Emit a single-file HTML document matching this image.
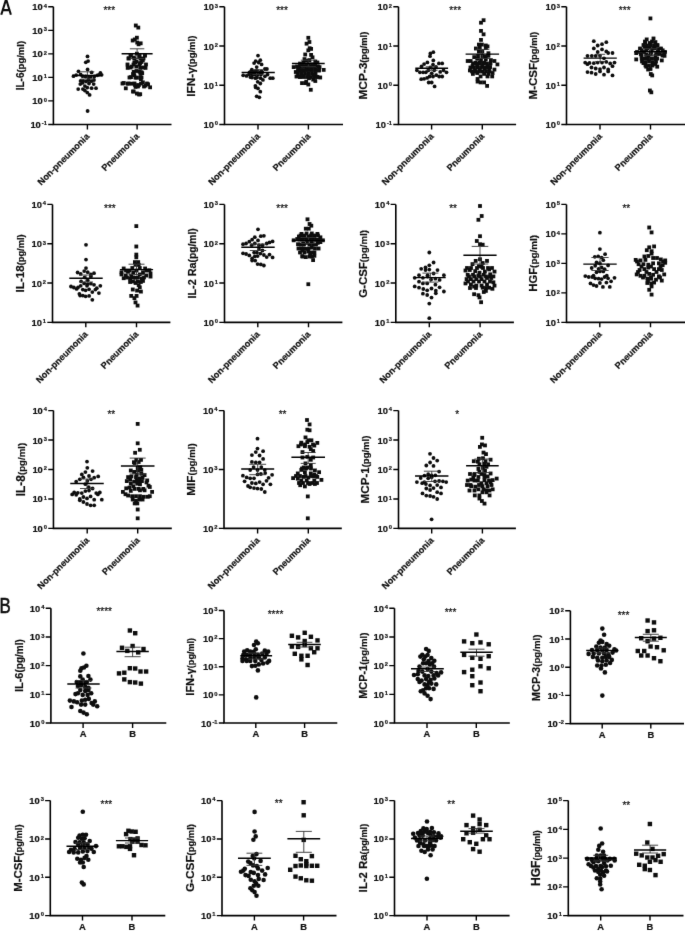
<!DOCTYPE html>
<html><head><meta charset="utf-8"><style>
html,body{margin:0;padding:0;background:#fff;}
svg{display:block;filter:grayscale(1);}
text{font-family:"Liberation Sans", sans-serif;fill:#111;stroke:#111;stroke-width:0.2px;}
</style></head><body>
<svg width="685" height="931" viewBox="0 0 685 931">
<defs><filter id="bl" x="0" y="0" width="685" height="931" filterUnits="userSpaceOnUse"><feConvolveMatrix order="3" kernelMatrix="0.00524 0.06192 0.00524 0.06192 0.73137 0.06192 0.00524 0.06192 0.00524" divisor="1" edgeMode="duplicate"/></filter></defs>
<rect width="685" height="931" fill="#fff"/>
<g filter="url(#bl)">
<path d="M1.3 14.7L6.1 -0.9L10.9 14.7M3.1 10.1H9.2" fill="none" stroke="#111" stroke-width="2.1"/>
<text transform="translate(-0.6 612.6) scale(0.78 1)" font-size="21.6" style="stroke-width:0.6px">B</text>
<path d="M53.4 6.8V124.45H171.5" fill="none" stroke="#000" stroke-width="1.6"/>
<path d="M48.2 6.8H53.4M48.2 30.33H53.4M48.2 53.86H53.4M48.2 77.39H53.4M48.2 100.92H53.4M48.2 124.45H53.4M87.4 124.45v5M137.1 124.45v5" fill="none" stroke="#000" stroke-width="1.4"/>
<text x="47" y="10.3" text-anchor="end" font-size="9.4" font-weight="bold">10<tspan font-size="5.8" dx="1.0" dy="-2.7">4</tspan></text>
<text x="47" y="33.83" text-anchor="end" font-size="9.4" font-weight="bold">10<tspan font-size="5.8" dx="1.0" dy="-2.7">3</tspan></text>
<text x="47" y="57.36" text-anchor="end" font-size="9.4" font-weight="bold">10<tspan font-size="5.8" dx="1.0" dy="-2.7">2</tspan></text>
<text x="47" y="80.89" text-anchor="end" font-size="9.4" font-weight="bold">10<tspan font-size="5.8" dx="1.0" dy="-2.7">1</tspan></text>
<text x="47" y="104.42" text-anchor="end" font-size="9.4" font-weight="bold">10<tspan font-size="5.8" dx="1.0" dy="-2.7">0</tspan></text>
<text x="47" y="127.95" text-anchor="end" font-size="9.4" font-weight="bold">10<tspan font-size="5.8" dx="1.0" dy="-2.7">-1</tspan></text>
<text id="lab_a1" transform="translate(23.8 65.62) rotate(-90)" text-anchor="middle" font-weight="bold" font-size="10.0">IL-6<tspan id="lp_a1" font-size="9.5">(pg/ml)</tspan></text>
<text x="109.3" y="13.65" text-anchor="middle" font-size="10" fill="#333">***</text>
<text transform="translate(90 137.05) rotate(-45)" text-anchor="end" font-size="9.05" font-weight="bold">Non-pneumonia</text>
<text transform="translate(139.7 137.05) rotate(-45)" text-anchor="end" font-size="9.05" font-weight="bold">Pneumonia</text>
<g fill="#111"><circle cx="87.5" cy="56.4" r="1.9"/><circle cx="88.1" cy="61.1" r="1.9"/><circle cx="85.8" cy="62.3" r="1.9"/><circle cx="87.6" cy="69.5" r="1.9"/><circle cx="78.5" cy="71.3" r="1.9"/><circle cx="91.6" cy="72.4" r="1.9"/><circle cx="100.4" cy="73" r="1.9"/><circle cx="101.6" cy="74.8" r="1.9"/><circle cx="73.5" cy="76.2" r="1.9"/><circle cx="76.2" cy="75.1" r="1.9"/><circle cx="80.6" cy="74.5" r="1.9"/><circle cx="82.6" cy="76.2" r="1.9"/><circle cx="85.5" cy="76.5" r="1.9"/><circle cx="88.4" cy="77.1" r="1.9"/><circle cx="90.8" cy="76.8" r="1.9"/><circle cx="94.3" cy="76.5" r="1.9"/><circle cx="97.2" cy="75.3" r="1.9"/><circle cx="98.9" cy="74.8" r="1.9"/><circle cx="80.6" cy="80.9" r="1.9"/><circle cx="83.2" cy="80.9" r="1.9"/><circle cx="86.1" cy="81.5" r="1.9"/><circle cx="88.4" cy="80" r="1.9"/><circle cx="91.4" cy="81.2" r="1.9"/><circle cx="94" cy="80" r="1.9"/><circle cx="80.3" cy="84.1" r="1.9"/><circle cx="82.6" cy="82.9" r="1.9"/><circle cx="89" cy="83.5" r="1.9"/><circle cx="93.7" cy="84.1" r="1.9"/><circle cx="84.9" cy="86.1" r="1.9"/><circle cx="87.3" cy="87.6" r="1.9"/><circle cx="78.2" cy="89.1" r="1.9"/><circle cx="82.9" cy="89.1" r="1.9"/><circle cx="91.6" cy="88.2" r="1.9"/><circle cx="96" cy="88.2" r="1.9"/><circle cx="84.9" cy="90.5" r="1.9"/><circle cx="87.3" cy="92.6" r="1.9"/><circle cx="89.6" cy="94.9" r="1.9"/><circle cx="87.6" cy="111" r="1.9"/><rect x="133.9" y="23.6" width="3.8" height="3.8"/><rect x="136.4" y="25.7" width="3.8" height="3.8"/><rect x="135" y="35.8" width="3.8" height="3.8"/><rect x="130.8" y="38.6" width="3.8" height="3.8"/><rect x="132.9" y="37.5" width="3.8" height="3.8"/><rect x="135.3" y="40.7" width="3.8" height="3.8"/><rect x="138.8" y="41.4" width="3.8" height="3.8"/><rect x="136.7" y="42.4" width="3.8" height="3.8"/><rect x="135" y="51.8" width="3.8" height="3.8"/><rect x="129" y="53.6" width="3.8" height="3.8"/><rect x="143" y="53.6" width="3.8" height="3.8"/><rect x="126.9" y="56.4" width="3.8" height="3.8"/><rect x="131.8" y="55.7" width="3.8" height="3.8"/><rect x="137.4" y="55" width="3.8" height="3.8"/><rect x="140.9" y="58.5" width="3.8" height="3.8"/><rect x="133.2" y="60.6" width="3.8" height="3.8"/><rect x="138.1" y="61.2" width="3.8" height="3.8"/><rect x="132.4" y="60.7" width="3.8" height="3.8"/><rect x="139.6" y="60.1" width="3.8" height="3.8"/><rect x="125.8" y="66" width="3.8" height="3.8"/><rect x="129.8" y="64.7" width="3.8" height="3.8"/><rect x="134.4" y="64.7" width="3.8" height="3.8"/><rect x="138.3" y="66" width="3.8" height="3.8"/><rect x="143.6" y="66" width="3.8" height="3.8"/><rect x="131.8" y="69.9" width="3.8" height="3.8"/><rect x="137.7" y="69.9" width="3.8" height="3.8"/><rect x="140.3" y="71.2" width="3.8" height="3.8"/><rect x="139.5" y="70.3" width="3.8" height="3.8"/><rect x="132.4" y="73.2" width="3.8" height="3.8"/><rect x="129.1" y="75.2" width="3.8" height="3.8"/><rect x="134.4" y="75.8" width="3.8" height="3.8"/><rect x="139" y="77.2" width="3.8" height="3.8"/><rect x="138.1" y="75.9" width="3.8" height="3.8"/><rect x="121.9" y="81.1" width="3.8" height="3.8"/><rect x="125.8" y="81.8" width="3.8" height="3.8"/><rect x="129.8" y="81.8" width="3.8" height="3.8"/><rect x="133.1" y="83.1" width="3.8" height="3.8"/><rect x="137" y="83.1" width="3.8" height="3.8"/><rect x="141" y="80.4" width="3.8" height="3.8"/><rect x="143.6" y="83.7" width="3.8" height="3.8"/><rect x="146.2" y="82.4" width="3.8" height="3.8"/><rect x="148.2" y="85.4" width="3.8" height="3.8"/><rect x="133.7" y="85" width="3.8" height="3.8"/><rect x="123.9" y="86.4" width="3.8" height="3.8"/><rect x="131.8" y="89.6" width="3.8" height="3.8"/><rect x="135" y="91.6" width="3.8" height="3.8"/><rect x="138.3" y="92.3" width="3.8" height="3.8"/><rect x="128.6" y="53.6" width="3.8" height="3.8"/><rect x="137.6" y="53.6" width="3.8" height="3.8"/><rect x="143.1" y="53.6" width="3.8" height="3.8"/><rect x="126.6" y="56.6" width="3.8" height="3.8"/><rect x="132.6" y="56.6" width="3.8" height="3.8"/><rect x="138.6" y="56.6" width="3.8" height="3.8"/><rect x="141.6" y="56.6" width="3.8" height="3.8"/><rect x="134.6" y="59.6" width="3.8" height="3.8"/><rect x="125.6" y="62.6" width="3.8" height="3.8"/><rect x="131.6" y="62.6" width="3.8" height="3.8"/><rect x="137.6" y="62.6" width="3.8" height="3.8"/><rect x="144.1" y="62.6" width="3.8" height="3.8"/><rect x="128.6" y="65.6" width="3.8" height="3.8"/><rect x="141.1" y="65.6" width="3.8" height="3.8"/><rect x="134.6" y="69.1" width="3.8" height="3.8"/><rect x="131.1" y="72.1" width="3.8" height="3.8"/><rect x="138.6" y="72.1" width="3.8" height="3.8"/><rect x="127.6" y="75.6" width="3.8" height="3.8"/><rect x="133.6" y="75.6" width="3.8" height="3.8"/><rect x="139.6" y="75.6" width="3.8" height="3.8"/><rect x="120.6" y="81.6" width="3.8" height="3.8"/><rect x="126.6" y="81.6" width="3.8" height="3.8"/><rect x="132.6" y="81.6" width="3.8" height="3.8"/><rect x="139.1" y="81.6" width="3.8" height="3.8"/><rect x="145.1" y="81.6" width="3.8" height="3.8"/><rect x="136.1" y="84.6" width="3.8" height="3.8"/><rect x="142.1" y="84.6" width="3.8" height="3.8"/><rect x="131.1" y="89.6" width="3.8" height="3.8"/><rect x="137.1" y="92.6" width="3.8" height="3.8"/></g>
<path d="M80.5 71.8H94.3M80.5 79H94.3M87.4 71.8V79M129.9 48.8H144.3M129.9 58.5H144.3M137.1 48.8V58.5" fill="none" stroke="#333" stroke-width="0.9"/>
<path d="M72.4 75.4H102.4M121.6 53.7H152.6" fill="none" stroke="#000" stroke-width="1.45"/>
<path d="M224.5 6.8V124.45H343" fill="none" stroke="#000" stroke-width="1.6"/>
<path d="M219.3 6.8H224.5M219.3 46.02H224.5M219.3 85.23H224.5M219.3 124.45H224.5M258 124.45v5M308.4 124.45v5" fill="none" stroke="#000" stroke-width="1.4"/>
<text x="218.1" y="10.3" text-anchor="end" font-size="9.4" font-weight="bold">10<tspan font-size="5.8" dx="1.0" dy="-2.7">3</tspan></text>
<text x="218.1" y="49.52" text-anchor="end" font-size="9.4" font-weight="bold">10<tspan font-size="5.8" dx="1.0" dy="-2.7">2</tspan></text>
<text x="218.1" y="88.73" text-anchor="end" font-size="9.4" font-weight="bold">10<tspan font-size="5.8" dx="1.0" dy="-2.7">1</tspan></text>
<text x="218.1" y="127.95" text-anchor="end" font-size="9.4" font-weight="bold">10<tspan font-size="5.8" dx="1.0" dy="-2.7">0</tspan></text>
<text id="lab_a2" transform="translate(195.1 66.22) rotate(-90)" text-anchor="middle" font-weight="bold" font-size="11.8">IFN-γ<tspan id="lp_a2" font-size="9.5">(pg/ml)</tspan></text>
<text x="282" y="13.85" text-anchor="middle" font-size="10" fill="#333">***</text>
<text transform="translate(260.6 137.05) rotate(-45)" text-anchor="end" font-size="9.05" font-weight="bold">Non-pneumonia</text>
<text transform="translate(311 137.05) rotate(-45)" text-anchor="end" font-size="9.05" font-weight="bold">Pneumonia</text>
<g fill="#111"><circle cx="258" cy="55.6" r="1.9"/><circle cx="260.3" cy="60.2" r="1.9"/><circle cx="255.7" cy="61.1" r="1.9"/><circle cx="254.1" cy="63.1" r="1.9"/><circle cx="258.7" cy="62.5" r="1.9"/><circle cx="261.6" cy="64.4" r="1.9"/><circle cx="256.7" cy="67.1" r="1.9"/><circle cx="251.8" cy="69.7" r="1.9"/><circle cx="264.9" cy="69" r="1.9"/><circle cx="266.9" cy="69" r="1.9"/><circle cx="249.5" cy="72.3" r="1.9"/><circle cx="253.4" cy="71.7" r="1.9"/><circle cx="256.4" cy="71" r="1.9"/><circle cx="259" cy="73" r="1.9"/><circle cx="262.3" cy="72.3" r="1.9"/><circle cx="243.2" cy="75.3" r="1.9"/><circle cx="246.5" cy="75.9" r="1.9"/><circle cx="250.5" cy="77.2" r="1.9"/><circle cx="253.1" cy="74.3" r="1.9"/><circle cx="258" cy="74.6" r="1.9"/><circle cx="264.9" cy="76.3" r="1.9"/><circle cx="267.5" cy="74.6" r="1.9"/><circle cx="255.4" cy="78.2" r="1.9"/><circle cx="260.6" cy="78.2" r="1.9"/><circle cx="262.9" cy="79.9" r="1.9"/><circle cx="257.7" cy="81.8" r="1.9"/><circle cx="260.3" cy="83.5" r="1.9"/><circle cx="270.2" cy="78.2" r="1.9"/><circle cx="272.8" cy="78.2" r="1.9"/><circle cx="255.4" cy="85.8" r="1.9"/><circle cx="255.7" cy="87.4" r="1.9"/><circle cx="258" cy="88.4" r="1.9"/><circle cx="260.3" cy="91.7" r="1.9"/><circle cx="256.7" cy="96.3" r="1.9"/><circle cx="259.3" cy="97.3" r="1.9"/><circle cx="249" cy="74.5" r="1.9"/><circle cx="252" cy="74.5" r="1.9"/><circle cx="255" cy="74.5" r="1.9"/><circle cx="261" cy="74.5" r="1.9"/><circle cx="251" cy="71.5" r="1.9"/><circle cx="254.5" cy="71.5" r="1.9"/><circle cx="258" cy="71.5" r="1.9"/><circle cx="261.5" cy="71.5" r="1.9"/><circle cx="252" cy="77.5" r="1.9"/><circle cx="257" cy="77.5" r="1.9"/><rect x="306.4" y="35.9" width="3.8" height="3.8"/><rect x="307.5" y="40.1" width="3.8" height="3.8"/><rect x="304.7" y="41.8" width="3.8" height="3.8"/><rect x="307.8" y="46.3" width="3.8" height="3.8"/><rect x="306.4" y="48.4" width="3.8" height="3.8"/><rect x="309.2" y="47" width="3.8" height="3.8"/><rect x="303.3" y="52.6" width="3.8" height="3.8"/><rect x="309.2" y="53" width="3.8" height="3.8"/><rect x="310.6" y="55.4" width="3.8" height="3.8"/><rect x="302.6" y="57.2" width="3.8" height="3.8"/><rect x="305" y="58.9" width="3.8" height="3.8"/><rect x="307.5" y="58.2" width="3.8" height="3.8"/><rect x="313.4" y="59.6" width="3.8" height="3.8"/><rect x="315.5" y="60.6" width="3.8" height="3.8"/><rect x="298.1" y="61.7" width="3.8" height="3.8"/><rect x="301.5" y="61" width="3.8" height="3.8"/><rect x="291.8" y="65.2" width="3.8" height="3.8"/><rect x="296.7" y="65.2" width="3.8" height="3.8"/><rect x="300.1" y="63.8" width="3.8" height="3.8"/><rect x="304.3" y="63.8" width="3.8" height="3.8"/><rect x="307.1" y="62.4" width="3.8" height="3.8"/><rect x="310.6" y="62.4" width="3.8" height="3.8"/><rect x="313.4" y="63.1" width="3.8" height="3.8"/><rect x="317.6" y="65.2" width="3.8" height="3.8"/><rect x="321.8" y="68" width="3.8" height="3.8"/><rect x="293.9" y="70.1" width="3.8" height="3.8"/><rect x="298.1" y="68.7" width="3.8" height="3.8"/><rect x="301.5" y="68.7" width="3.8" height="3.8"/><rect x="305" y="68" width="3.8" height="3.8"/><rect x="309.2" y="68" width="3.8" height="3.8"/><rect x="313.4" y="68" width="3.8" height="3.8"/><rect x="316.9" y="68.7" width="3.8" height="3.8"/><rect x="294.6" y="74.6" width="3.8" height="3.8"/><rect x="298.1" y="74.9" width="3.8" height="3.8"/><rect x="301.5" y="74.2" width="3.8" height="3.8"/><rect x="306.4" y="72.9" width="3.8" height="3.8"/><rect x="312" y="72.9" width="3.8" height="3.8"/><rect x="314.8" y="74.9" width="3.8" height="3.8"/><rect x="318.3" y="75.6" width="3.8" height="3.8"/><rect x="307.1" y="76.3" width="3.8" height="3.8"/><rect x="311.3" y="77.7" width="3.8" height="3.8"/><rect x="313.4" y="79.1" width="3.8" height="3.8"/><rect x="300.1" y="81.2" width="3.8" height="3.8"/><rect x="303.6" y="81.2" width="3.8" height="3.8"/><rect x="306.4" y="82.6" width="3.8" height="3.8"/><rect x="304.3" y="79.8" width="3.8" height="3.8"/><rect x="308.9" y="87.9" width="3.8" height="3.8"/><rect x="295.1" y="64.6" width="3.8" height="3.8"/><rect x="298.6" y="64.6" width="3.8" height="3.8"/><rect x="302.1" y="64.6" width="3.8" height="3.8"/><rect x="305.6" y="64.6" width="3.8" height="3.8"/><rect x="309.1" y="64.6" width="3.8" height="3.8"/><rect x="312.6" y="64.6" width="3.8" height="3.8"/><rect x="316.1" y="64.6" width="3.8" height="3.8"/><rect x="296.1" y="68.1" width="3.8" height="3.8"/><rect x="299.6" y="68.1" width="3.8" height="3.8"/><rect x="303.1" y="68.1" width="3.8" height="3.8"/><rect x="306.6" y="68.1" width="3.8" height="3.8"/><rect x="310.1" y="68.1" width="3.8" height="3.8"/><rect x="313.6" y="68.1" width="3.8" height="3.8"/><rect x="317.1" y="68.1" width="3.8" height="3.8"/><rect x="296.1" y="71.6" width="3.8" height="3.8"/><rect x="299.6" y="71.6" width="3.8" height="3.8"/><rect x="303.1" y="71.6" width="3.8" height="3.8"/><rect x="306.6" y="71.6" width="3.8" height="3.8"/><rect x="310.1" y="71.6" width="3.8" height="3.8"/><rect x="313.6" y="71.6" width="3.8" height="3.8"/><rect x="298.1" y="75.1" width="3.8" height="3.8"/><rect x="301.6" y="75.1" width="3.8" height="3.8"/><rect x="305.1" y="75.1" width="3.8" height="3.8"/><rect x="308.6" y="75.1" width="3.8" height="3.8"/><rect x="312.1" y="75.1" width="3.8" height="3.8"/><rect x="315.6" y="75.1" width="3.8" height="3.8"/></g>
<path d="M252.7 69.7H263.7M252.7 74.5H263.7M258.2 69.7V74.5M300.8 60.2H315.8M300.8 66.6H315.8M308.3 60.2V66.6" fill="none" stroke="#333" stroke-width="0.9"/>
<path d="M241.6 72.4H274.8M291.9 63.5H324.7" fill="none" stroke="#000" stroke-width="1.45"/>
<path d="M398.5 6.8V124.45H516.1" fill="none" stroke="#000" stroke-width="1.6"/>
<path d="M393.3 6.8H398.5M393.3 46.02H398.5M393.3 85.23H398.5M393.3 124.45H398.5M431.6 124.45v5M482.3 124.45v5" fill="none" stroke="#000" stroke-width="1.4"/>
<text x="392.1" y="10.3" text-anchor="end" font-size="9.4" font-weight="bold">10<tspan font-size="5.8" dx="1.0" dy="-2.7">2</tspan></text>
<text x="392.1" y="49.52" text-anchor="end" font-size="9.4" font-weight="bold">10<tspan font-size="5.8" dx="1.0" dy="-2.7">1</tspan></text>
<text x="392.1" y="88.73" text-anchor="end" font-size="9.4" font-weight="bold">10<tspan font-size="5.8" dx="1.0" dy="-2.7">0</tspan></text>
<text x="392.1" y="127.95" text-anchor="end" font-size="9.4" font-weight="bold">10<tspan font-size="5.8" dx="1.0" dy="-2.7">-1</tspan></text>
<text id="lab_a3" transform="translate(367.15 65.62) rotate(-90)" text-anchor="middle" font-weight="bold" font-size="11.8">MCP-3<tspan id="lp_a3" font-size="9.3">(pg/ml)</tspan></text>
<text x="455.2" y="13.55" text-anchor="middle" font-size="10" fill="#333">***</text>
<text transform="translate(434.2 137.05) rotate(-45)" text-anchor="end" font-size="9.05" font-weight="bold">Non-pneumonia</text>
<text transform="translate(484.9 137.05) rotate(-45)" text-anchor="end" font-size="9.05" font-weight="bold">Pneumonia</text>
<g fill="#111"><circle cx="433.3" cy="52.2" r="1.9"/><circle cx="430.4" cy="53.5" r="1.9"/><circle cx="430" cy="56.2" r="1.9"/><circle cx="433.3" cy="60.4" r="1.9"/><circle cx="424.1" cy="64.1" r="1.9"/><circle cx="427.4" cy="62.4" r="1.9"/><circle cx="438.9" cy="63.4" r="1.9"/><circle cx="442.2" cy="63.4" r="1.9"/><circle cx="421.5" cy="66.4" r="1.9"/><circle cx="433" cy="64.7" r="1.9"/><circle cx="430.4" cy="67.3" r="1.9"/><circle cx="436" cy="67" r="1.9"/><circle cx="416.9" cy="70.3" r="1.9"/><circle cx="419.9" cy="72.3" r="1.9"/><circle cx="423.1" cy="72.3" r="1.9"/><circle cx="425.8" cy="72.3" r="1.9"/><circle cx="428.4" cy="70.3" r="1.9"/><circle cx="434.3" cy="70.3" r="1.9"/><circle cx="440.2" cy="71.9" r="1.9"/><circle cx="443.5" cy="70.3" r="1.9"/><circle cx="446.5" cy="72.3" r="1.9"/><circle cx="431.7" cy="73.3" r="1.9"/><circle cx="421.2" cy="79.2" r="1.9"/><circle cx="424.1" cy="78.8" r="1.9"/><circle cx="427.1" cy="77.9" r="1.9"/><circle cx="429.7" cy="76.5" r="1.9"/><circle cx="433" cy="76.5" r="1.9"/><circle cx="436.3" cy="75.2" r="1.9"/><circle cx="439.2" cy="76.5" r="1.9"/><circle cx="442.2" cy="76.5" r="1.9"/><circle cx="428.7" cy="82.5" r="1.9"/><circle cx="431.7" cy="82.5" r="1.9"/><circle cx="434.6" cy="86.4" r="1.9"/><rect x="481.7" y="18.3" width="3.8" height="3.8"/><rect x="479.1" y="20.8" width="3.8" height="3.8"/><rect x="479.1" y="29" width="3.8" height="3.8"/><rect x="481.7" y="32.4" width="3.8" height="3.8"/><rect x="479.1" y="38" width="3.8" height="3.8"/><rect x="477" y="42.7" width="3.8" height="3.8"/><rect x="480" y="42.7" width="3.8" height="3.8"/><rect x="483.9" y="43.6" width="3.8" height="3.8"/><rect x="474" y="46.6" width="3.8" height="3.8"/><rect x="477.9" y="45.8" width="3.8" height="3.8"/><rect x="483.9" y="46.2" width="3.8" height="3.8"/><rect x="485.6" y="44.5" width="3.8" height="3.8"/><rect x="477" y="49.6" width="3.8" height="3.8"/><rect x="480.4" y="49.6" width="3.8" height="3.8"/><rect x="486.5" y="51.3" width="3.8" height="3.8"/><rect x="486.5" y="53.9" width="3.8" height="3.8"/><rect x="472.3" y="55.2" width="3.8" height="3.8"/><rect x="476.1" y="54.3" width="3.8" height="3.8"/><rect x="480.4" y="54.3" width="3.8" height="3.8"/><rect x="483.4" y="54.8" width="3.8" height="3.8"/><rect x="465.8" y="59.1" width="3.8" height="3.8"/><rect x="468.8" y="59.1" width="3.8" height="3.8"/><rect x="475.3" y="56.9" width="3.8" height="3.8"/><rect x="479.1" y="58.2" width="3.8" height="3.8"/><rect x="483.9" y="57.3" width="3.8" height="3.8"/><rect x="489" y="58.2" width="3.8" height="3.8"/><rect x="492.5" y="59.1" width="3.8" height="3.8"/><rect x="473.6" y="60.8" width="3.8" height="3.8"/><rect x="477.9" y="60.8" width="3.8" height="3.8"/><rect x="482.6" y="60.8" width="3.8" height="3.8"/><rect x="495.5" y="62.5" width="3.8" height="3.8"/><rect x="470.6" y="64.2" width="3.8" height="3.8"/><rect x="475.3" y="63.4" width="3.8" height="3.8"/><rect x="480.4" y="64.2" width="3.8" height="3.8"/><rect x="485.6" y="64.2" width="3.8" height="3.8"/><rect x="488.2" y="65.1" width="3.8" height="3.8"/><rect x="468" y="68.5" width="3.8" height="3.8"/><rect x="473.1" y="68.5" width="3.8" height="3.8"/><rect x="477.9" y="67.7" width="3.8" height="3.8"/><rect x="483" y="66.8" width="3.8" height="3.8"/><rect x="487.3" y="67.7" width="3.8" height="3.8"/><rect x="492.5" y="67.7" width="3.8" height="3.8"/><rect x="471" y="72" width="3.8" height="3.8"/><rect x="475.3" y="71.1" width="3.8" height="3.8"/><rect x="482.2" y="72" width="3.8" height="3.8"/><rect x="486.5" y="72" width="3.8" height="3.8"/><rect x="490.7" y="71.1" width="3.8" height="3.8"/><rect x="478.7" y="74.5" width="3.8" height="3.8"/><rect x="485.6" y="74.5" width="3.8" height="3.8"/><rect x="490.3" y="74.5" width="3.8" height="3.8"/><rect x="475.7" y="77.1" width="3.8" height="3.8"/><rect x="475.7" y="79.7" width="3.8" height="3.8"/><rect x="478.7" y="80.5" width="3.8" height="3.8"/><rect x="482.2" y="80.5" width="3.8" height="3.8"/><rect x="485.2" y="84" width="3.8" height="3.8"/><rect x="471.1" y="61.6" width="3.8" height="3.8"/><rect x="474.6" y="61.6" width="3.8" height="3.8"/><rect x="478.1" y="61.6" width="3.8" height="3.8"/><rect x="481.6" y="61.6" width="3.8" height="3.8"/><rect x="485.1" y="61.6" width="3.8" height="3.8"/><rect x="488.6" y="61.6" width="3.8" height="3.8"/><rect x="468.6" y="65.6" width="3.8" height="3.8"/><rect x="472.1" y="65.6" width="3.8" height="3.8"/><rect x="475.6" y="65.6" width="3.8" height="3.8"/><rect x="479.1" y="65.6" width="3.8" height="3.8"/><rect x="482.6" y="65.6" width="3.8" height="3.8"/><rect x="486.1" y="65.6" width="3.8" height="3.8"/><rect x="470.1" y="69.6" width="3.8" height="3.8"/><rect x="473.6" y="69.6" width="3.8" height="3.8"/><rect x="477.1" y="69.6" width="3.8" height="3.8"/><rect x="480.6" y="69.6" width="3.8" height="3.8"/><rect x="484.1" y="69.6" width="3.8" height="3.8"/><rect x="487.6" y="69.6" width="3.8" height="3.8"/></g>
<path d="M425.7 66.8H437.7M425.7 70.2H437.7M431.7 66.8V70.2M475.35 49.4H489.35M475.35 58.5H489.35M482.35 49.4V58.5" fill="none" stroke="#333" stroke-width="0.9"/>
<path d="M415.3 68.3H448.1M465.6 54.1H499.1" fill="none" stroke="#000" stroke-width="1.45"/>
<path d="M566.5 6.8V124.45H685.5" fill="none" stroke="#000" stroke-width="1.6"/>
<path d="M561.3 6.8H566.5M561.3 46.02H566.5M561.3 85.23H566.5M561.3 124.45H566.5M600 124.45v5M650.5 124.45v5" fill="none" stroke="#000" stroke-width="1.4"/>
<text x="560.1" y="10.3" text-anchor="end" font-size="9.4" font-weight="bold">10<tspan font-size="5.8" dx="1.0" dy="-2.7">3</tspan></text>
<text x="560.1" y="49.52" text-anchor="end" font-size="9.4" font-weight="bold">10<tspan font-size="5.8" dx="1.0" dy="-2.7">2</tspan></text>
<text x="560.1" y="88.73" text-anchor="end" font-size="9.4" font-weight="bold">10<tspan font-size="5.8" dx="1.0" dy="-2.7">1</tspan></text>
<text x="560.1" y="127.95" text-anchor="end" font-size="9.4" font-weight="bold">10<tspan font-size="5.8" dx="1.0" dy="-2.7">0</tspan></text>
<text id="lab_a4" transform="translate(537.1 65.62) rotate(-90)" text-anchor="middle" font-weight="bold" font-size="11.5">M-CSF<tspan id="lp_a4" font-size="9.4">(pg/ml)</tspan></text>
<text x="624.7" y="13.55" text-anchor="middle" font-size="10" fill="#333">***</text>
<text transform="translate(602.6 137.05) rotate(-45)" text-anchor="end" font-size="9.05" font-weight="bold">Non-pneumonia</text>
<text transform="translate(653.1 137.05) rotate(-45)" text-anchor="end" font-size="9.05" font-weight="bold">Pneumonia</text>
<g fill="#111"><circle cx="593.8" cy="41.2" r="1.9"/><circle cx="606.3" cy="42.2" r="1.9"/><circle cx="602" cy="44.2" r="1.9"/><circle cx="597.7" cy="45.5" r="1.9"/><circle cx="593.8" cy="48.4" r="1.9"/><circle cx="602" cy="49.4" r="1.9"/><circle cx="597.7" cy="52" r="1.9"/><circle cx="606.3" cy="51.4" r="1.9"/><circle cx="608.2" cy="53" r="1.9"/><circle cx="612.5" cy="53" r="1.9"/><circle cx="587.5" cy="55.8" r="1.9"/><circle cx="591.8" cy="55.8" r="1.9"/><circle cx="595.7" cy="55.8" r="1.9"/><circle cx="600" cy="55.8" r="1.9"/><circle cx="604" cy="58.3" r="1.9"/><circle cx="585.2" cy="62.6" r="1.9"/><circle cx="587.5" cy="64.2" r="1.9"/><circle cx="589.5" cy="62.9" r="1.9"/><circle cx="593.8" cy="63.2" r="1.9"/><circle cx="597.7" cy="62.6" r="1.9"/><circle cx="602" cy="62.6" r="1.9"/><circle cx="606.3" cy="61.9" r="1.9"/><circle cx="610.2" cy="63.5" r="1.9"/><circle cx="614.5" cy="62.6" r="1.9"/><circle cx="612.5" cy="66.2" r="1.9"/><circle cx="591.5" cy="67.5" r="1.9"/><circle cx="595.7" cy="68.5" r="1.9"/><circle cx="600" cy="69.1" r="1.9"/><circle cx="604" cy="67.5" r="1.9"/><circle cx="608.2" cy="69.5" r="1.9"/><circle cx="587.5" cy="72.1" r="1.9"/><circle cx="591.5" cy="72.7" r="1.9"/><circle cx="595.7" cy="74" r="1.9"/><circle cx="600" cy="71.4" r="1.9"/><circle cx="604" cy="74.7" r="1.9"/><circle cx="608.2" cy="71.4" r="1.9"/><circle cx="612.5" cy="75.4" r="1.9"/><rect x="648.5" y="16.5" width="3.8" height="3.8"/><rect x="644.8" y="37.5" width="3.8" height="3.8"/><rect x="651.6" y="36.6" width="3.8" height="3.8"/><rect x="643.4" y="40.2" width="3.8" height="3.8"/><rect x="648" y="41.1" width="3.8" height="3.8"/><rect x="653.5" y="40.2" width="3.8" height="3.8"/><rect x="655.3" y="43.9" width="3.8" height="3.8"/><rect x="642.5" y="44.8" width="3.8" height="3.8"/><rect x="648" y="45.7" width="3.8" height="3.8"/><rect x="652.6" y="45.7" width="3.8" height="3.8"/><rect x="639.8" y="48.4" width="3.8" height="3.8"/><rect x="644.3" y="48.4" width="3.8" height="3.8"/><rect x="649.8" y="48.4" width="3.8" height="3.8"/><rect x="656.2" y="47.5" width="3.8" height="3.8"/><rect x="660.8" y="48.4" width="3.8" height="3.8"/><rect x="662.1" y="50.2" width="3.8" height="3.8"/><rect x="634.3" y="51.2" width="3.8" height="3.8"/><rect x="638.9" y="52.1" width="3.8" height="3.8"/><rect x="644.3" y="53" width="3.8" height="3.8"/><rect x="648.9" y="52.1" width="3.8" height="3.8"/><rect x="654.4" y="52.1" width="3.8" height="3.8"/><rect x="658" y="52.1" width="3.8" height="3.8"/><rect x="662.6" y="53.9" width="3.8" height="3.8"/><rect x="634.3" y="57.5" width="3.8" height="3.8"/><rect x="639.8" y="56.6" width="3.8" height="3.8"/><rect x="644.3" y="56.6" width="3.8" height="3.8"/><rect x="649.8" y="56.6" width="3.8" height="3.8"/><rect x="655.3" y="56.6" width="3.8" height="3.8"/><rect x="659.9" y="58.5" width="3.8" height="3.8"/><rect x="641.6" y="61.2" width="3.8" height="3.8"/><rect x="647.1" y="63.9" width="3.8" height="3.8"/><rect x="653.5" y="62.1" width="3.8" height="3.8"/><rect x="655.3" y="64.8" width="3.8" height="3.8"/><rect x="644.3" y="64.8" width="3.8" height="3.8"/><rect x="646.2" y="67.6" width="3.8" height="3.8"/><rect x="648.9" y="72.1" width="3.8" height="3.8"/><rect x="650.3" y="73.5" width="3.8" height="3.8"/><rect x="648" y="88.6" width="3.8" height="3.8"/><rect x="649.4" y="90.4" width="3.8" height="3.8"/><rect x="643.1" y="39.6" width="3.8" height="3.8"/><rect x="650.1" y="39.6" width="3.8" height="3.8"/><rect x="641.6" y="43.1" width="3.8" height="3.8"/><rect x="648.6" y="43.1" width="3.8" height="3.8"/><rect x="655.6" y="43.1" width="3.8" height="3.8"/><rect x="638.1" y="46.6" width="3.8" height="3.8"/><rect x="645.1" y="46.6" width="3.8" height="3.8"/><rect x="652.1" y="46.6" width="3.8" height="3.8"/><rect x="659.1" y="46.6" width="3.8" height="3.8"/><rect x="635.1" y="50.1" width="3.8" height="3.8"/><rect x="642.1" y="50.1" width="3.8" height="3.8"/><rect x="649.1" y="50.1" width="3.8" height="3.8"/><rect x="656.1" y="50.1" width="3.8" height="3.8"/><rect x="663.1" y="50.1" width="3.8" height="3.8"/><rect x="639.6" y="53.6" width="3.8" height="3.8"/><rect x="646.6" y="53.6" width="3.8" height="3.8"/><rect x="653.6" y="53.6" width="3.8" height="3.8"/><rect x="660.6" y="53.6" width="3.8" height="3.8"/><rect x="640.1" y="59.6" width="3.8" height="3.8"/><rect x="647.1" y="59.6" width="3.8" height="3.8"/><rect x="654.1" y="59.6" width="3.8" height="3.8"/><rect x="643.6" y="63.6" width="3.8" height="3.8"/><rect x="650.6" y="63.6" width="3.8" height="3.8"/><rect x="648.6" y="67.1" width="3.8" height="3.8"/><rect x="642.6" y="56.9" width="3.8" height="3.8"/><rect x="646.1" y="56.9" width="3.8" height="3.8"/><rect x="649.6" y="56.9" width="3.8" height="3.8"/><rect x="653.1" y="56.9" width="3.8" height="3.8"/><rect x="643.6" y="60.6" width="3.8" height="3.8"/><rect x="650.6" y="60.6" width="3.8" height="3.8"/><rect x="645.1" y="43.6" width="3.8" height="3.8"/><rect x="652.1" y="43.6" width="3.8" height="3.8"/></g>
<path d="M595.2 54.3H605.2M595.2 61.5H605.2M600.2 54.3V61.5M643.5 48.6H657.5M643.5 55.2H657.5M650.5 48.6V55.2" fill="none" stroke="#333" stroke-width="0.9"/>
<path d="M583.6 58.1H616.8M634.1 51.8H666.9" fill="none" stroke="#000" stroke-width="1.45"/>
<path d="M52.5 204.4V322.35H170.4" fill="none" stroke="#000" stroke-width="1.6"/>
<path d="M47.3 204.4H52.5M47.3 243.72H52.5M47.3 283.03H52.5M47.3 322.35H52.5M85.8 322.35v5M136.5 322.35v5" fill="none" stroke="#000" stroke-width="1.4"/>
<text x="46.1" y="207.9" text-anchor="end" font-size="9.4" font-weight="bold">10<tspan font-size="5.8" dx="1.0" dy="-2.7">4</tspan></text>
<text x="46.1" y="247.22" text-anchor="end" font-size="9.4" font-weight="bold">10<tspan font-size="5.8" dx="1.0" dy="-2.7">3</tspan></text>
<text x="46.1" y="286.53" text-anchor="end" font-size="9.4" font-weight="bold">10<tspan font-size="5.8" dx="1.0" dy="-2.7">2</tspan></text>
<text x="46.1" y="325.85" text-anchor="end" font-size="9.4" font-weight="bold">10<tspan font-size="5.8" dx="1.0" dy="-2.7">1</tspan></text>
<text id="lab_a5" transform="translate(23.55 263.38) rotate(-90)" text-anchor="middle" font-weight="bold" font-size="11.6">IL-18<tspan id="lp_a5" font-size="9.3">(pg/ml)</tspan></text>
<text x="109.85" y="211.55" text-anchor="middle" font-size="10" fill="#333">***</text>
<text transform="translate(88.4 334.95) rotate(-45)" text-anchor="end" font-size="9.05" font-weight="bold">Non-pneumonia</text>
<text transform="translate(139.1 334.95) rotate(-45)" text-anchor="end" font-size="9.05" font-weight="bold">Pneumonia</text>
<g fill="#111"><circle cx="86" cy="244.8" r="1.9"/><circle cx="86" cy="259.6" r="1.9"/><circle cx="86" cy="268.1" r="1.9"/><circle cx="84.2" cy="271.1" r="1.9"/><circle cx="77.6" cy="272.5" r="1.9"/><circle cx="80.7" cy="273.9" r="1.9"/><circle cx="87.7" cy="272.2" r="1.9"/><circle cx="90.9" cy="274.3" r="1.9"/><circle cx="94" cy="273.2" r="1.9"/><circle cx="84.6" cy="277.4" r="1.9"/><circle cx="90.9" cy="276.4" r="1.9"/><circle cx="87.7" cy="280.2" r="1.9"/><circle cx="81.1" cy="281.3" r="1.9"/><circle cx="84.2" cy="283.4" r="1.9"/><circle cx="87.7" cy="284.1" r="1.9"/><circle cx="90.9" cy="283.7" r="1.9"/><circle cx="94" cy="284.8" r="1.9"/><circle cx="71" cy="286.5" r="1.9"/><circle cx="73.8" cy="287.5" r="1.9"/><circle cx="76.6" cy="288.9" r="1.9"/><circle cx="78" cy="287.5" r="1.9"/><circle cx="80.7" cy="285.8" r="1.9"/><circle cx="87" cy="285.8" r="1.9"/><circle cx="100.3" cy="285.8" r="1.9"/><circle cx="96.8" cy="288.2" r="1.9"/><circle cx="95.4" cy="289.6" r="1.9"/><circle cx="82.8" cy="289.6" r="1.9"/><circle cx="85.6" cy="290.3" r="1.9"/><circle cx="89.1" cy="289.3" r="1.9"/><circle cx="92.3" cy="292.1" r="1.9"/><circle cx="98.9" cy="293.1" r="1.9"/><circle cx="79.4" cy="293.8" r="1.9"/><circle cx="80.1" cy="295.6" r="1.9"/><circle cx="82.8" cy="295.6" r="1.9"/><circle cx="85.6" cy="296.3" r="1.9"/><circle cx="89.1" cy="295.9" r="1.9"/><circle cx="92.3" cy="299.8" r="1.9"/><rect x="134.4" y="224.2" width="3.8" height="3.8"/><rect x="134.4" y="244.6" width="3.8" height="3.8"/><rect x="134.4" y="252.7" width="3.8" height="3.8"/><rect x="134.4" y="255.4" width="3.8" height="3.8"/><rect x="133" y="260.2" width="3.8" height="3.8"/><rect x="136.3" y="260.2" width="3.8" height="3.8"/><rect x="133.6" y="262.9" width="3.8" height="3.8"/><rect x="136.8" y="262.9" width="3.8" height="3.8"/><rect x="121.8" y="266.6" width="3.8" height="3.8"/><rect x="130.4" y="266.1" width="3.8" height="3.8"/><rect x="137.9" y="266.1" width="3.8" height="3.8"/><rect x="143.2" y="266.6" width="3.8" height="3.8"/><rect x="147.5" y="268.3" width="3.8" height="3.8"/><rect x="119.6" y="270.4" width="3.8" height="3.8"/><rect x="126.1" y="269.9" width="3.8" height="3.8"/><rect x="131.4" y="270.4" width="3.8" height="3.8"/><rect x="141.1" y="270.4" width="3.8" height="3.8"/><rect x="148.6" y="271.5" width="3.8" height="3.8"/><rect x="119.6" y="272.5" width="3.8" height="3.8"/><rect x="123.9" y="273.6" width="3.8" height="3.8"/><rect x="129.3" y="273.6" width="3.8" height="3.8"/><rect x="137.9" y="272.5" width="3.8" height="3.8"/><rect x="144.3" y="273.6" width="3.8" height="3.8"/><rect x="148.6" y="274.7" width="3.8" height="3.8"/><rect x="121.8" y="276.3" width="3.8" height="3.8"/><rect x="128.2" y="276.8" width="3.8" height="3.8"/><rect x="133.6" y="275.8" width="3.8" height="3.8"/><rect x="140" y="276.8" width="3.8" height="3.8"/><rect x="128.2" y="280.1" width="3.8" height="3.8"/><rect x="133.6" y="281.1" width="3.8" height="3.8"/><rect x="139" y="280.1" width="3.8" height="3.8"/><rect x="141.1" y="279" width="3.8" height="3.8"/><rect x="136.8" y="283.3" width="3.8" height="3.8"/><rect x="137.9" y="285.4" width="3.8" height="3.8"/><rect x="130.9" y="287.6" width="3.8" height="3.8"/><rect x="135.2" y="288.7" width="3.8" height="3.8"/><rect x="139" y="289.7" width="3.8" height="3.8"/><rect x="129.3" y="294" width="3.8" height="3.8"/><rect x="134.7" y="294" width="3.8" height="3.8"/><rect x="132.5" y="296.2" width="3.8" height="3.8"/><rect x="133.6" y="300.5" width="3.8" height="3.8"/><rect x="135.7" y="303.7" width="3.8" height="3.8"/><rect x="124.1" y="268.6" width="3.8" height="3.8"/><rect x="127.6" y="268.6" width="3.8" height="3.8"/><rect x="134.6" y="268.6" width="3.8" height="3.8"/><rect x="144.6" y="268.6" width="3.8" height="3.8"/><rect x="125.1" y="275.6" width="3.8" height="3.8"/><rect x="131.1" y="275.6" width="3.8" height="3.8"/><rect x="136.1" y="275.6" width="3.8" height="3.8"/><rect x="142.1" y="275.6" width="3.8" height="3.8"/><rect x="131.1" y="279.6" width="3.8" height="3.8"/><rect x="135.6" y="279.6" width="3.8" height="3.8"/></g>
<path d="M79 275H93M79 282H93M86 275V282M128.5 264.2H144.5M128.5 274.5H144.5M136.5 264.2V274.5" fill="none" stroke="#333" stroke-width="0.9"/>
<path d="M69.3 278.3H102.7M119.9 269.6H153.1" fill="none" stroke="#000" stroke-width="1.45"/>
<path d="M224.5 204.4V322.35H342.4" fill="none" stroke="#000" stroke-width="1.6"/>
<path d="M219.3 204.4H224.5M219.3 243.72H224.5M219.3 283.03H224.5M219.3 322.35H224.5M257.8 322.35v5M308.5 322.35v5" fill="none" stroke="#000" stroke-width="1.4"/>
<text x="218.1" y="207.9" text-anchor="end" font-size="9.4" font-weight="bold">10<tspan font-size="5.8" dx="1.0" dy="-2.7">3</tspan></text>
<text x="218.1" y="247.22" text-anchor="end" font-size="9.4" font-weight="bold">10<tspan font-size="5.8" dx="1.0" dy="-2.7">2</tspan></text>
<text x="218.1" y="286.53" text-anchor="end" font-size="9.4" font-weight="bold">10<tspan font-size="5.8" dx="1.0" dy="-2.7">1</tspan></text>
<text x="218.1" y="325.85" text-anchor="end" font-size="9.4" font-weight="bold">10<tspan font-size="5.8" dx="1.0" dy="-2.7">0</tspan></text>
<text id="lab_a6" transform="translate(196.3 263.38) rotate(-90)" text-anchor="middle" font-weight="bold" font-size="10.8">IL-2 Ra<tspan id="lp_a6" font-size="10.3">(pg/ml)</tspan></text>
<text x="282.15" y="211.55" text-anchor="middle" font-size="10" fill="#333">***</text>
<text transform="translate(260.4 334.95) rotate(-45)" text-anchor="end" font-size="9.05" font-weight="bold">Non-pneumonia</text>
<text transform="translate(311.1 334.95) rotate(-45)" text-anchor="end" font-size="9.05" font-weight="bold">Pneumonia</text>
<g fill="#111"><circle cx="258" cy="229.3" r="1.9"/><circle cx="260.8" cy="236.2" r="1.9"/><circle cx="263.9" cy="235.8" r="1.9"/><circle cx="254.8" cy="237.2" r="1.9"/><circle cx="252.1" cy="239.7" r="1.9"/><circle cx="258" cy="240.4" r="1.9"/><circle cx="243" cy="244.2" r="1.9"/><circle cx="246.1" cy="243.5" r="1.9"/><circle cx="249.3" cy="241.7" r="1.9"/><circle cx="251.7" cy="245.2" r="1.9"/><circle cx="254.8" cy="243.5" r="1.9"/><circle cx="259" cy="245.2" r="1.9"/><circle cx="262.5" cy="245.2" r="1.9"/><circle cx="266.7" cy="243.5" r="1.9"/><circle cx="269.5" cy="242.4" r="1.9"/><circle cx="272.6" cy="241.4" r="1.9"/><circle cx="259" cy="249.1" r="1.9"/><circle cx="262.5" cy="250.5" r="1.9"/><circle cx="243" cy="253.3" r="1.9"/><circle cx="246.1" cy="254" r="1.9"/><circle cx="249.3" cy="255.4" r="1.9"/><circle cx="254.1" cy="252.6" r="1.9"/><circle cx="256.9" cy="252.6" r="1.9"/><circle cx="260.4" cy="253.6" r="1.9"/><circle cx="263.9" cy="255" r="1.9"/><circle cx="254.8" cy="256.4" r="1.9"/><circle cx="257.6" cy="256.1" r="1.9"/><circle cx="266.7" cy="257.1" r="1.9"/><circle cx="269.5" cy="254.7" r="1.9"/><circle cx="272.6" cy="257.4" r="1.9"/><circle cx="252.1" cy="258.5" r="1.9"/><circle cx="252.1" cy="260.6" r="1.9"/><circle cx="255.2" cy="260.6" r="1.9"/><circle cx="257.6" cy="264.1" r="1.9"/><circle cx="260.8" cy="264.4" r="1.9"/><circle cx="263.9" cy="265.5" r="1.9"/><rect x="305.6" y="217.4" width="3.8" height="3.8"/><rect x="307.7" y="222.1" width="3.8" height="3.8"/><rect x="309.4" y="223.8" width="3.8" height="3.8"/><rect x="303.9" y="226.8" width="3.8" height="3.8"/><rect x="306.9" y="226.8" width="3.8" height="3.8"/><rect x="299.6" y="232" width="3.8" height="3.8"/><rect x="304.7" y="231.6" width="3.8" height="3.8"/><rect x="309.9" y="231.6" width="3.8" height="3.8"/><rect x="315.5" y="232" width="3.8" height="3.8"/><rect x="297" y="234.6" width="3.8" height="3.8"/><rect x="302.1" y="235" width="3.8" height="3.8"/><rect x="306.4" y="234.6" width="3.8" height="3.8"/><rect x="312.5" y="234.1" width="3.8" height="3.8"/><rect x="318.5" y="235.4" width="3.8" height="3.8"/><rect x="291.8" y="238.4" width="3.8" height="3.8"/><rect x="295.3" y="237.1" width="3.8" height="3.8"/><rect x="300.4" y="237.6" width="3.8" height="3.8"/><rect x="304.7" y="238" width="3.8" height="3.8"/><rect x="314.2" y="238" width="3.8" height="3.8"/><rect x="321" y="238.4" width="3.8" height="3.8"/><rect x="296.1" y="242.3" width="3.8" height="3.8"/><rect x="301.3" y="241.9" width="3.8" height="3.8"/><rect x="305.6" y="241" width="3.8" height="3.8"/><rect x="309.9" y="240.2" width="3.8" height="3.8"/><rect x="315.9" y="241" width="3.8" height="3.8"/><rect x="318.5" y="240.2" width="3.8" height="3.8"/><rect x="299.6" y="246.6" width="3.8" height="3.8"/><rect x="303.9" y="247" width="3.8" height="3.8"/><rect x="309.9" y="245.7" width="3.8" height="3.8"/><rect x="316.7" y="246.6" width="3.8" height="3.8"/><rect x="300.4" y="248.7" width="3.8" height="3.8"/><rect x="306.4" y="249.6" width="3.8" height="3.8"/><rect x="312.5" y="250.5" width="3.8" height="3.8"/><rect x="300.4" y="254.3" width="3.8" height="3.8"/><rect x="303.9" y="255.2" width="3.8" height="3.8"/><rect x="308.2" y="253" width="3.8" height="3.8"/><rect x="312.5" y="253.9" width="3.8" height="3.8"/><rect x="311.2" y="258.2" width="3.8" height="3.8"/><rect x="306.4" y="282.3" width="3.8" height="3.8"/><rect x="298.6" y="233.6" width="3.8" height="3.8"/><rect x="302.1" y="233.6" width="3.8" height="3.8"/><rect x="309.1" y="233.6" width="3.8" height="3.8"/><rect x="312.6" y="233.6" width="3.8" height="3.8"/><rect x="316.1" y="233.6" width="3.8" height="3.8"/><rect x="297.6" y="237.6" width="3.8" height="3.8"/><rect x="301.1" y="237.6" width="3.8" height="3.8"/><rect x="308.1" y="237.6" width="3.8" height="3.8"/><rect x="311.1" y="237.6" width="3.8" height="3.8"/><rect x="317.6" y="237.6" width="3.8" height="3.8"/><rect x="298.6" y="242.6" width="3.8" height="3.8"/><rect x="302.1" y="242.6" width="3.8" height="3.8"/><rect x="307.6" y="242.6" width="3.8" height="3.8"/><rect x="311.1" y="242.6" width="3.8" height="3.8"/><rect x="314.1" y="242.6" width="3.8" height="3.8"/><rect x="296.6" y="246.6" width="3.8" height="3.8"/><rect x="301.6" y="246.6" width="3.8" height="3.8"/><rect x="306.6" y="246.6" width="3.8" height="3.8"/><rect x="313.1" y="246.6" width="3.8" height="3.8"/><rect x="298.1" y="250.6" width="3.8" height="3.8"/><rect x="302.6" y="250.6" width="3.8" height="3.8"/><rect x="309.6" y="250.6" width="3.8" height="3.8"/><rect x="300.6" y="254.6" width="3.8" height="3.8"/><rect x="307.6" y="254.6" width="3.8" height="3.8"/><rect x="310.1" y="254.6" width="3.8" height="3.8"/></g>
<path d="M249.8 244.2H266.2M249.8 250.5H266.2M258 244.2V250.5M300.8 237.5H315.8M300.8 243.5H315.8M308.3 237.5V243.5" fill="none" stroke="#333" stroke-width="0.9"/>
<path d="M241.3 247.3H274.7M291.8 240.5H324.8" fill="none" stroke="#000" stroke-width="1.45"/>
<path d="M395.8 204.4V322.35H513.9" fill="none" stroke="#000" stroke-width="1.6"/>
<path d="M390.6 204.4H395.8M390.6 243.72H395.8M390.6 283.03H395.8M390.6 322.35H395.8M429.3 322.35v5M480.1 322.35v5" fill="none" stroke="#000" stroke-width="1.4"/>
<text x="389.4" y="207.9" text-anchor="end" font-size="9.4" font-weight="bold">10<tspan font-size="5.8" dx="1.0" dy="-2.7">4</tspan></text>
<text x="389.4" y="247.22" text-anchor="end" font-size="9.4" font-weight="bold">10<tspan font-size="5.8" dx="1.0" dy="-2.7">3</tspan></text>
<text x="389.4" y="286.53" text-anchor="end" font-size="9.4" font-weight="bold">10<tspan font-size="5.8" dx="1.0" dy="-2.7">2</tspan></text>
<text x="389.4" y="325.85" text-anchor="end" font-size="9.4" font-weight="bold">10<tspan font-size="5.8" dx="1.0" dy="-2.7">1</tspan></text>
<text id="lab_a7" transform="translate(366.8 263.77) rotate(-90)" text-anchor="middle" font-weight="bold" font-size="11.4">G-CSF<tspan id="lp_a7" font-size="9.7">(pg/ml)</tspan></text>
<text x="453.1" y="211.55" text-anchor="middle" font-size="10" fill="#333">**</text>
<text transform="translate(431.9 334.95) rotate(-45)" text-anchor="end" font-size="9.05" font-weight="bold">Non-pneumonia</text>
<text transform="translate(482.7 334.95) rotate(-45)" text-anchor="end" font-size="9.05" font-weight="bold">Pneumonia</text>
<g fill="#111"><circle cx="429.3" cy="252.5" r="1.9"/><circle cx="433.6" cy="262.5" r="1.9"/><circle cx="429.3" cy="265.3" r="1.9"/><circle cx="421.2" cy="268.8" r="1.9"/><circle cx="425.5" cy="267.5" r="1.9"/><circle cx="425.5" cy="270.1" r="1.9"/><circle cx="429.3" cy="269.6" r="1.9"/><circle cx="437.5" cy="270.1" r="1.9"/><circle cx="433.6" cy="273.5" r="1.9"/><circle cx="419" cy="275.2" r="1.9"/><circle cx="427.6" cy="275.2" r="1.9"/><circle cx="443.9" cy="275.2" r="1.9"/><circle cx="414.7" cy="277.8" r="1.9"/><circle cx="422.9" cy="277.8" r="1.9"/><circle cx="427.6" cy="276.5" r="1.9"/><circle cx="431.1" cy="279.5" r="1.9"/><circle cx="435.4" cy="278.7" r="1.9"/><circle cx="439.6" cy="279.9" r="1.9"/><circle cx="419" cy="281.7" r="1.9"/><circle cx="422.9" cy="283.4" r="1.9"/><circle cx="427.2" cy="283.4" r="1.9"/><circle cx="435.4" cy="284.7" r="1.9"/><circle cx="414.7" cy="286.4" r="1.9"/><circle cx="419" cy="287.7" r="1.9"/><circle cx="423.3" cy="289" r="1.9"/><circle cx="427.2" cy="290.3" r="1.9"/><circle cx="431.5" cy="288.5" r="1.9"/><circle cx="439.6" cy="287.3" r="1.9"/><circle cx="435.8" cy="290.7" r="1.9"/><circle cx="435.8" cy="293.3" r="1.9"/><circle cx="443.9" cy="291.5" r="1.9"/><circle cx="422.9" cy="293.7" r="1.9"/><circle cx="427.2" cy="295" r="1.9"/><circle cx="431.5" cy="297.6" r="1.9"/><circle cx="429.3" cy="303.6" r="1.9"/><circle cx="429.3" cy="318.2" r="1.9"/><rect x="478.1" y="204.1" width="3.8" height="3.8"/><rect x="479.8" y="214.1" width="3.8" height="3.8"/><rect x="476.5" y="217.9" width="3.8" height="3.8"/><rect x="478.1" y="234.3" width="3.8" height="3.8"/><rect x="474.9" y="239.1" width="3.8" height="3.8"/><rect x="478.1" y="242.3" width="3.8" height="3.8"/><rect x="480.8" y="242.8" width="3.8" height="3.8"/><rect x="478.1" y="257.3" width="3.8" height="3.8"/><rect x="473.8" y="259" width="3.8" height="3.8"/><rect x="485.1" y="259" width="3.8" height="3.8"/><rect x="480.8" y="261.1" width="3.8" height="3.8"/><rect x="470.6" y="262.2" width="3.8" height="3.8"/><rect x="477" y="264.3" width="3.8" height="3.8"/><rect x="479.7" y="264.9" width="3.8" height="3.8"/><rect x="463.6" y="268.6" width="3.8" height="3.8"/><rect x="467.9" y="268.1" width="3.8" height="3.8"/><rect x="473.3" y="269.2" width="3.8" height="3.8"/><rect x="477.6" y="270.8" width="3.8" height="3.8"/><rect x="483" y="269.7" width="3.8" height="3.8"/><rect x="487.2" y="267.5" width="3.8" height="3.8"/><rect x="492.6" y="269.7" width="3.8" height="3.8"/><rect x="465.8" y="272.9" width="3.8" height="3.8"/><rect x="471.1" y="272.9" width="3.8" height="3.8"/><rect x="476.5" y="273.5" width="3.8" height="3.8"/><rect x="481.9" y="272.9" width="3.8" height="3.8"/><rect x="488.3" y="272.4" width="3.8" height="3.8"/><rect x="491.5" y="274.5" width="3.8" height="3.8"/><rect x="464.7" y="277.2" width="3.8" height="3.8"/><rect x="469" y="277.2" width="3.8" height="3.8"/><rect x="474.4" y="277.2" width="3.8" height="3.8"/><rect x="479.7" y="277.2" width="3.8" height="3.8"/><rect x="485.1" y="276.1" width="3.8" height="3.8"/><rect x="489.4" y="276.1" width="3.8" height="3.8"/><rect x="463.6" y="281.5" width="3.8" height="3.8"/><rect x="469" y="282.6" width="3.8" height="3.8"/><rect x="474.4" y="283.7" width="3.8" height="3.8"/><rect x="479.7" y="283.7" width="3.8" height="3.8"/><rect x="485.1" y="282.6" width="3.8" height="3.8"/><rect x="491.5" y="280.4" width="3.8" height="3.8"/><rect x="472.2" y="284.7" width="3.8" height="3.8"/><rect x="480.8" y="285.8" width="3.8" height="3.8"/><rect x="487.2" y="285.8" width="3.8" height="3.8"/><rect x="490.5" y="286.9" width="3.8" height="3.8"/><rect x="492.6" y="283.7" width="3.8" height="3.8"/><rect x="481.9" y="290.1" width="3.8" height="3.8"/><rect x="484" y="289" width="3.8" height="3.8"/><rect x="472.2" y="292.3" width="3.8" height="3.8"/><rect x="476.5" y="293.3" width="3.8" height="3.8"/><rect x="477.6" y="295.5" width="3.8" height="3.8"/><rect x="479.2" y="300.3" width="3.8" height="3.8"/><rect x="465.1" y="266.1" width="3.8" height="3.8"/><rect x="469.1" y="266.1" width="3.8" height="3.8"/><rect x="475.1" y="266.1" width="3.8" height="3.8"/><rect x="481.1" y="266.1" width="3.8" height="3.8"/><rect x="486.1" y="266.1" width="3.8" height="3.8"/><rect x="490.1" y="266.1" width="3.8" height="3.8"/><rect x="467.1" y="274.6" width="3.8" height="3.8"/><rect x="472.6" y="274.6" width="3.8" height="3.8"/><rect x="478.1" y="274.6" width="3.8" height="3.8"/><rect x="484.1" y="274.6" width="3.8" height="3.8"/><rect x="488.1" y="274.6" width="3.8" height="3.8"/><rect x="466.1" y="279.6" width="3.8" height="3.8"/><rect x="471.6" y="279.6" width="3.8" height="3.8"/><rect x="477.1" y="279.6" width="3.8" height="3.8"/><rect x="482.6" y="279.6" width="3.8" height="3.8"/><rect x="488.1" y="279.6" width="3.8" height="3.8"/><rect x="468.1" y="286.1" width="3.8" height="3.8"/><rect x="474.1" y="286.1" width="3.8" height="3.8"/><rect x="484.1" y="286.1" width="3.8" height="3.8"/></g>
<path d="M422.4 273.1H438.4M422.4 282.1H438.4M430.4 273.1V282.1M471.7 246.4H488.3M471.7 264H488.3M480 246.4V264" fill="none" stroke="#333" stroke-width="0.9"/>
<path d="M415.1 277.6H445.7M463.4 255.2H496.6" fill="none" stroke="#000" stroke-width="1.45"/>
<path d="M566.5 204.4V322.35H685.5" fill="none" stroke="#000" stroke-width="1.6"/>
<path d="M561.3 204.4H566.5M561.3 233.89H566.5M561.3 263.38H566.5M561.3 292.86H566.5M561.3 322.35H566.5M599.8 322.35v5M650.5 322.35v5" fill="none" stroke="#000" stroke-width="1.4"/>
<text x="560.1" y="207.9" text-anchor="end" font-size="9.4" font-weight="bold">10<tspan font-size="5.8" dx="1.0" dy="-2.7">5</tspan></text>
<text x="560.1" y="237.39" text-anchor="end" font-size="9.4" font-weight="bold">10<tspan font-size="5.8" dx="1.0" dy="-2.7">4</tspan></text>
<text x="560.1" y="266.88" text-anchor="end" font-size="9.4" font-weight="bold">10<tspan font-size="5.8" dx="1.0" dy="-2.7">3</tspan></text>
<text x="560.1" y="296.36" text-anchor="end" font-size="9.4" font-weight="bold">10<tspan font-size="5.8" dx="1.0" dy="-2.7">2</tspan></text>
<text x="560.1" y="325.85" text-anchor="end" font-size="9.4" font-weight="bold">10<tspan font-size="5.8" dx="1.0" dy="-2.7">1</tspan></text>
<text id="lab_a8" transform="translate(536.8 263.38) rotate(-90)" text-anchor="middle" font-weight="bold" font-size="11.3">HGF<tspan id="lp_a8" font-size="9.9">(pg/ml)</tspan></text>
<text x="626.3" y="211.55" text-anchor="middle" font-size="10" fill="#333">**</text>
<text transform="translate(602.4 334.95) rotate(-45)" text-anchor="end" font-size="9.05" font-weight="bold">Non-pneumonia</text>
<text transform="translate(653.1 334.95) rotate(-45)" text-anchor="end" font-size="9.05" font-weight="bold">Pneumonia</text>
<g fill="#111"><circle cx="599.9" cy="232.7" r="1.9"/><circle cx="599.9" cy="249.1" r="1.9"/><circle cx="605.1" cy="254.2" r="1.9"/><circle cx="594.8" cy="256.8" r="1.9"/><circle cx="598.2" cy="256.4" r="1.9"/><circle cx="601.6" cy="257.6" r="1.9"/><circle cx="603.3" cy="260.2" r="1.9"/><circle cx="596.5" cy="262.4" r="1.9"/><circle cx="599.9" cy="263.2" r="1.9"/><circle cx="595.2" cy="265.8" r="1.9"/><circle cx="608.1" cy="265.4" r="1.9"/><circle cx="591.7" cy="268" r="1.9"/><circle cx="598.6" cy="268.8" r="1.9"/><circle cx="601.6" cy="267.5" r="1.9"/><circle cx="604.6" cy="269.2" r="1.9"/><circle cx="596.5" cy="272.3" r="1.9"/><circle cx="599.9" cy="271.4" r="1.9"/><circle cx="603.3" cy="271.4" r="1.9"/><circle cx="585.3" cy="276.1" r="1.9"/><circle cx="588.7" cy="277" r="1.9"/><circle cx="592.2" cy="277" r="1.9"/><circle cx="593.5" cy="275.7" r="1.9"/><circle cx="595.2" cy="278.3" r="1.9"/><circle cx="598.6" cy="278.7" r="1.9"/><circle cx="601.6" cy="279.1" r="1.9"/><circle cx="604.6" cy="277" r="1.9"/><circle cx="606.8" cy="275.7" r="1.9"/><circle cx="608.1" cy="278.3" r="1.9"/><circle cx="614.5" cy="277.8" r="1.9"/><circle cx="599.9" cy="283" r="1.9"/><circle cx="606.4" cy="282.6" r="1.9"/><circle cx="611.1" cy="281.3" r="1.9"/><circle cx="590.5" cy="283.4" r="1.9"/><circle cx="593.5" cy="285.1" r="1.9"/><circle cx="596.5" cy="286" r="1.9"/><circle cx="602.9" cy="286.9" r="1.9"/><circle cx="609.8" cy="286.9" r="1.9"/><rect x="647.3" y="225.6" width="3.8" height="3.8"/><rect x="649.7" y="230.5" width="3.8" height="3.8"/><rect x="652.2" y="244.5" width="3.8" height="3.8"/><rect x="647.3" y="245.4" width="3.8" height="3.8"/><rect x="644.9" y="248.3" width="3.8" height="3.8"/><rect x="649.7" y="249.3" width="3.8" height="3.8"/><rect x="649.7" y="251.7" width="3.8" height="3.8"/><rect x="642.5" y="254.6" width="3.8" height="3.8"/><rect x="646.4" y="254.1" width="3.8" height="3.8"/><rect x="633.8" y="258" width="3.8" height="3.8"/><rect x="638.6" y="258.5" width="3.8" height="3.8"/><rect x="643.5" y="258" width="3.8" height="3.8"/><rect x="651.2" y="256.1" width="3.8" height="3.8"/><rect x="655.1" y="256.1" width="3.8" height="3.8"/><rect x="658.9" y="257.5" width="3.8" height="3.8"/><rect x="663.3" y="258.5" width="3.8" height="3.8"/><rect x="636.7" y="262.3" width="3.8" height="3.8"/><rect x="641.5" y="262.3" width="3.8" height="3.8"/><rect x="646.4" y="262.8" width="3.8" height="3.8"/><rect x="651.2" y="261.4" width="3.8" height="3.8"/><rect x="657" y="261.4" width="3.8" height="3.8"/><rect x="663.3" y="260.9" width="3.8" height="3.8"/><rect x="660.8" y="263.3" width="3.8" height="3.8"/><rect x="637.7" y="268.1" width="3.8" height="3.8"/><rect x="642.5" y="267.2" width="3.8" height="3.8"/><rect x="646.4" y="265.7" width="3.8" height="3.8"/><rect x="652.2" y="267.2" width="3.8" height="3.8"/><rect x="657" y="267.2" width="3.8" height="3.8"/><rect x="659.9" y="268.1" width="3.8" height="3.8"/><rect x="634.8" y="272.5" width="3.8" height="3.8"/><rect x="638.6" y="273.9" width="3.8" height="3.8"/><rect x="642.5" y="273.9" width="3.8" height="3.8"/><rect x="647.3" y="272" width="3.8" height="3.8"/><rect x="651.2" y="272.9" width="3.8" height="3.8"/><rect x="657" y="274.4" width="3.8" height="3.8"/><rect x="662.3" y="272.5" width="3.8" height="3.8"/><rect x="645.4" y="276.8" width="3.8" height="3.8"/><rect x="649.3" y="276.8" width="3.8" height="3.8"/><rect x="654.1" y="277.8" width="3.8" height="3.8"/><rect x="659.9" y="278.7" width="3.8" height="3.8"/><rect x="645.4" y="281.1" width="3.8" height="3.8"/><rect x="649.3" y="281.6" width="3.8" height="3.8"/><rect x="652.2" y="280.7" width="3.8" height="3.8"/><rect x="649.7" y="284.5" width="3.8" height="3.8"/><rect x="647.3" y="287.9" width="3.8" height="3.8"/><rect x="649.7" y="292.7" width="3.8" height="3.8"/><rect x="635.1" y="259.6" width="3.8" height="3.8"/><rect x="661.1" y="259.6" width="3.8" height="3.8"/><rect x="639.6" y="264.6" width="3.8" height="3.8"/><rect x="649.1" y="264.6" width="3.8" height="3.8"/><rect x="658.6" y="264.6" width="3.8" height="3.8"/><rect x="636.1" y="270.1" width="3.8" height="3.8"/><rect x="644.6" y="270.1" width="3.8" height="3.8"/><rect x="654.6" y="270.1" width="3.8" height="3.8"/><rect x="641.1" y="275.6" width="3.8" height="3.8"/><rect x="649.1" y="275.6" width="3.8" height="3.8"/><rect x="658.1" y="275.6" width="3.8" height="3.8"/><rect x="646.1" y="279.1" width="3.8" height="3.8"/></g>
<path d="M591.4 257.5H608.6M591.4 270.5H608.6M600 257.5V270.5" fill="none" stroke="#333" stroke-width="0.9"/>
<path d="M583.3 264.1H616.7" fill="none" stroke="#000" stroke-width="1.45"/>
<path d="M53.45 410.6V528.4H171.8" fill="none" stroke="#000" stroke-width="1.6"/>
<path d="M48.25 410.6H53.45M48.25 440.05H53.45M48.25 469.5H53.45M48.25 498.95H53.45M48.25 528.4H53.45M87.2 528.4v5M137.7 528.4v5" fill="none" stroke="#000" stroke-width="1.4"/>
<text x="47.05" y="414.1" text-anchor="end" font-size="9.4" font-weight="bold">10<tspan font-size="5.8" dx="1.0" dy="-2.7">4</tspan></text>
<text x="47.05" y="443.55" text-anchor="end" font-size="9.4" font-weight="bold">10<tspan font-size="5.8" dx="1.0" dy="-2.7">3</tspan></text>
<text x="47.05" y="473" text-anchor="end" font-size="9.4" font-weight="bold">10<tspan font-size="5.8" dx="1.0" dy="-2.7">2</tspan></text>
<text x="47.05" y="502.45" text-anchor="end" font-size="9.4" font-weight="bold">10<tspan font-size="5.8" dx="1.0" dy="-2.7">1</tspan></text>
<text x="47.05" y="531.9" text-anchor="end" font-size="9.4" font-weight="bold">10<tspan font-size="5.8" dx="1.0" dy="-2.7">0</tspan></text>
<text id="lab_a9" transform="translate(25.3 469.5) rotate(-90)" text-anchor="middle" font-weight="bold" font-size="11.9">IL-8<tspan id="lp_a9" font-size="9.7">(pg/ml)</tspan></text>
<text x="111.3" y="417.65" text-anchor="middle" font-size="10" fill="#333">**</text>
<text transform="translate(89.8 541) rotate(-45)" text-anchor="end" font-size="9.05" font-weight="bold">Non-pneumonia</text>
<text transform="translate(140.3 541) rotate(-45)" text-anchor="end" font-size="9.05" font-weight="bold">Pneumonia</text>
<g fill="#111"><circle cx="87" cy="461.6" r="1.9"/><circle cx="87.3" cy="467.8" r="1.9"/><circle cx="85.4" cy="472.1" r="1.9"/><circle cx="92.6" cy="471.1" r="1.9"/><circle cx="81.8" cy="474.4" r="1.9"/><circle cx="89" cy="476" r="1.9"/><circle cx="83.4" cy="477.3" r="1.9"/><circle cx="98.2" cy="476.4" r="1.9"/><circle cx="94.2" cy="477.7" r="1.9"/><circle cx="79.8" cy="479.3" r="1.9"/><circle cx="91" cy="479.3" r="1.9"/><circle cx="87.3" cy="481" r="1.9"/><circle cx="76.2" cy="481.6" r="1.9"/><circle cx="85.4" cy="484.2" r="1.9"/><circle cx="88.7" cy="487.2" r="1.9"/><circle cx="92.6" cy="488.5" r="1.9"/><circle cx="89" cy="490.5" r="1.9"/><circle cx="85.4" cy="491.1" r="1.9"/><circle cx="72.2" cy="494.4" r="1.9"/><circle cx="74.2" cy="492.5" r="1.9"/><circle cx="76.2" cy="494.8" r="1.9"/><circle cx="77.8" cy="492.8" r="1.9"/><circle cx="81.8" cy="493.1" r="1.9"/><circle cx="96.2" cy="493.1" r="1.9"/><circle cx="97.9" cy="494.4" r="1.9"/><circle cx="99.8" cy="492.5" r="1.9"/><circle cx="83.4" cy="497" r="1.9"/><circle cx="87" cy="498.4" r="1.9"/><circle cx="90.6" cy="496.4" r="1.9"/><circle cx="79.8" cy="499" r="1.9"/><circle cx="79.8" cy="500.3" r="1.9"/><circle cx="94.2" cy="499.7" r="1.9"/><circle cx="101.8" cy="499.7" r="1.9"/><circle cx="83.4" cy="502" r="1.9"/><circle cx="87" cy="504" r="1.9"/><circle cx="90.6" cy="505.3" r="1.9"/><circle cx="94.2" cy="505.3" r="1.9"/><rect x="135.8" y="422" width="3.8" height="3.8"/><rect x="135.8" y="441.4" width="3.8" height="3.8"/><rect x="137.9" y="447.9" width="3.8" height="3.8"/><rect x="133.2" y="450.9" width="3.8" height="3.8"/><rect x="134.4" y="458" width="3.8" height="3.8"/><rect x="139.1" y="458" width="3.8" height="3.8"/><rect x="132" y="460.3" width="3.8" height="3.8"/><rect x="132.8" y="461.1" width="3.8" height="3.8"/><rect x="136.8" y="460.1" width="3.8" height="3.8"/><rect x="135.8" y="466" width="3.8" height="3.8"/><rect x="138.4" y="465.4" width="3.8" height="3.8"/><rect x="128.9" y="468.6" width="3.8" height="3.8"/><rect x="132.2" y="470" width="3.8" height="3.8"/><rect x="136.1" y="468.6" width="3.8" height="3.8"/><rect x="139.4" y="468" width="3.8" height="3.8"/><rect x="134.8" y="472.6" width="3.8" height="3.8"/><rect x="139.4" y="471.9" width="3.8" height="3.8"/><rect x="142.7" y="473.2" width="3.8" height="3.8"/><rect x="126.2" y="475.2" width="3.8" height="3.8"/><rect x="129.5" y="474.6" width="3.8" height="3.8"/><rect x="134.1" y="475.2" width="3.8" height="3.8"/><rect x="137.4" y="476.5" width="3.8" height="3.8"/><rect x="140.7" y="475.9" width="3.8" height="3.8"/><rect x="124.9" y="479.2" width="3.8" height="3.8"/><rect x="128.2" y="477.8" width="3.8" height="3.8"/><rect x="132.2" y="479.8" width="3.8" height="3.8"/><rect x="134.8" y="478.5" width="3.8" height="3.8"/><rect x="136.8" y="479.8" width="3.8" height="3.8"/><rect x="140" y="479.2" width="3.8" height="3.8"/><rect x="145.3" y="478.5" width="3.8" height="3.8"/><rect x="128.9" y="481.8" width="3.8" height="3.8"/><rect x="135.4" y="481.8" width="3.8" height="3.8"/><rect x="138.1" y="482.4" width="3.8" height="3.8"/><rect x="144.6" y="480.5" width="3.8" height="3.8"/><rect x="131.5" y="484.4" width="3.8" height="3.8"/><rect x="146.6" y="483.8" width="3.8" height="3.8"/><rect x="147.9" y="485.1" width="3.8" height="3.8"/><rect x="124.3" y="486.4" width="3.8" height="3.8"/><rect x="127.6" y="485.7" width="3.8" height="3.8"/><rect x="132.8" y="487" width="3.8" height="3.8"/><rect x="136.8" y="487" width="3.8" height="3.8"/><rect x="141.4" y="487" width="3.8" height="3.8"/><rect x="121" y="490" width="3.8" height="3.8"/><rect x="128.9" y="489" width="3.8" height="3.8"/><rect x="138.1" y="488.4" width="3.8" height="3.8"/><rect x="142.7" y="488.4" width="3.8" height="3.8"/><rect x="150.2" y="490" width="3.8" height="3.8"/><rect x="123.6" y="492.3" width="3.8" height="3.8"/><rect x="126.2" y="493.6" width="3.8" height="3.8"/><rect x="130.2" y="494.3" width="3.8" height="3.8"/><rect x="134.1" y="494.3" width="3.8" height="3.8"/><rect x="138.1" y="494.3" width="3.8" height="3.8"/><rect x="142" y="494.9" width="3.8" height="3.8"/><rect x="146" y="494.9" width="3.8" height="3.8"/><rect x="147.9" y="494.3" width="3.8" height="3.8"/><rect x="130.8" y="497.6" width="3.8" height="3.8"/><rect x="134.1" y="498.9" width="3.8" height="3.8"/><rect x="137.4" y="497.6" width="3.8" height="3.8"/><rect x="140.7" y="497.6" width="3.8" height="3.8"/><rect x="132.8" y="501.5" width="3.8" height="3.8"/><rect x="135.4" y="501.5" width="3.8" height="3.8"/><rect x="135.8" y="507.6" width="3.8" height="3.8"/><rect x="135.8" y="516.4" width="3.8" height="3.8"/></g>
<path d="M80 479H94M80 488.5H94M87 479V488.5M129.7 458.1H145.7M129.7 474H145.7M137.7 458.1V474" fill="none" stroke="#333" stroke-width="0.9"/>
<path d="M70.25 483.4H103.75M120.9 466H154.5" fill="none" stroke="#000" stroke-width="1.45"/>
<path d="M224 410.6V528.4H341.8" fill="none" stroke="#000" stroke-width="1.6"/>
<path d="M218.8 410.6H224M218.8 469.5H224M218.8 528.4H224M257.6 528.4v5M308.3 528.4v5" fill="none" stroke="#000" stroke-width="1.4"/>
<text x="217.6" y="414.1" text-anchor="end" font-size="9.4" font-weight="bold">10<tspan font-size="5.8" dx="1.0" dy="-2.7">4</tspan></text>
<text x="217.6" y="473" text-anchor="end" font-size="9.4" font-weight="bold">10<tspan font-size="5.8" dx="1.0" dy="-2.7">3</tspan></text>
<text x="217.6" y="531.9" text-anchor="end" font-size="9.4" font-weight="bold">10<tspan font-size="5.8" dx="1.0" dy="-2.7">2</tspan></text>
<text id="lab_a10" transform="translate(194.8 469.5) rotate(-90)" text-anchor="middle" font-weight="bold" font-size="11.7">MIF<tspan id="lp_a10" font-size="9.7">(pg/ml)</tspan></text>
<text x="282.55" y="417.65" text-anchor="middle" font-size="10" fill="#333">**</text>
<text transform="translate(260.2 541) rotate(-45)" text-anchor="end" font-size="9.05" font-weight="bold">Non-pneumonia</text>
<text transform="translate(310.9 541) rotate(-45)" text-anchor="end" font-size="9.05" font-weight="bold">Pneumonia</text>
<g fill="#111"><circle cx="257.5" cy="438.7" r="1.9"/><circle cx="257.5" cy="448.6" r="1.9"/><circle cx="255.8" cy="452.1" r="1.9"/><circle cx="263.1" cy="451.2" r="1.9"/><circle cx="251.9" cy="455.1" r="1.9"/><circle cx="259.6" cy="455.5" r="1.9"/><circle cx="263.1" cy="458.9" r="1.9"/><circle cx="251.9" cy="461.9" r="1.9"/><circle cx="255.8" cy="462.4" r="1.9"/><circle cx="259.6" cy="462.4" r="1.9"/><circle cx="253.6" cy="467.1" r="1.9"/><circle cx="261.3" cy="467.1" r="1.9"/><circle cx="250.2" cy="470.1" r="1.9"/><circle cx="257.5" cy="470.1" r="1.9"/><circle cx="264.8" cy="470.1" r="1.9"/><circle cx="265.2" cy="473.1" r="1.9"/><circle cx="257.5" cy="474.4" r="1.9"/><circle cx="260.9" cy="474" r="1.9"/><circle cx="242.9" cy="475.7" r="1.9"/><circle cx="246.7" cy="477.4" r="1.9"/><circle cx="250.2" cy="478.3" r="1.9"/><circle cx="254" cy="478.3" r="1.9"/><circle cx="272.1" cy="474.8" r="1.9"/><circle cx="268.6" cy="477.8" r="1.9"/><circle cx="266.5" cy="480.8" r="1.9"/><circle cx="244.6" cy="481.3" r="1.9"/><circle cx="251.9" cy="483" r="1.9"/><circle cx="255.8" cy="483.4" r="1.9"/><circle cx="259.6" cy="482.1" r="1.9"/><circle cx="263.1" cy="484.3" r="1.9"/><circle cx="270.4" cy="484.3" r="1.9"/><circle cx="248" cy="486" r="1.9"/><circle cx="250.2" cy="487.3" r="1.9"/><circle cx="254" cy="488.1" r="1.9"/><circle cx="257.5" cy="488.6" r="1.9"/><circle cx="261.3" cy="489" r="1.9"/><circle cx="264.8" cy="492" r="1.9"/><rect x="305.1" y="418.1" width="3.8" height="3.8"/><rect x="307.7" y="422.5" width="3.8" height="3.8"/><rect x="305.4" y="427.8" width="3.8" height="3.8"/><rect x="307.7" y="428.4" width="3.8" height="3.8"/><rect x="303.6" y="435.5" width="3.8" height="3.8"/><rect x="306.5" y="438.4" width="3.8" height="3.8"/><rect x="309.5" y="438.4" width="3.8" height="3.8"/><rect x="299.4" y="440.8" width="3.8" height="3.8"/><rect x="305.4" y="440.2" width="3.8" height="3.8"/><rect x="315.4" y="441" width="3.8" height="3.8"/><rect x="296.5" y="444.3" width="3.8" height="3.8"/><rect x="303" y="444.3" width="3.8" height="3.8"/><rect x="307.7" y="444.9" width="3.8" height="3.8"/><rect x="312.4" y="443.7" width="3.8" height="3.8"/><rect x="308.9" y="447.3" width="3.8" height="3.8"/><rect x="311.3" y="449.1" width="3.8" height="3.8"/><rect x="300.6" y="450.2" width="3.8" height="3.8"/><rect x="300.6" y="455.6" width="3.8" height="3.8"/><rect x="305.4" y="455" width="3.8" height="3.8"/><rect x="311.3" y="455.6" width="3.8" height="3.8"/><rect x="308.9" y="457.9" width="3.8" height="3.8"/><rect x="303.6" y="461.5" width="3.8" height="3.8"/><rect x="308.9" y="463.2" width="3.8" height="3.8"/><rect x="301.8" y="465.6" width="3.8" height="3.8"/><rect x="305.4" y="465.6" width="3.8" height="3.8"/><rect x="299.4" y="468" width="3.8" height="3.8"/><rect x="313" y="468.5" width="3.8" height="3.8"/><rect x="317.2" y="470.3" width="3.8" height="3.8"/><rect x="295.9" y="471.5" width="3.8" height="3.8"/><rect x="303" y="470.3" width="3.8" height="3.8"/><rect x="308.9" y="471.5" width="3.8" height="3.8"/><rect x="312.4" y="472.7" width="3.8" height="3.8"/><rect x="291.2" y="476.2" width="3.8" height="3.8"/><rect x="295.9" y="476.8" width="3.8" height="3.8"/><rect x="301.8" y="475" width="3.8" height="3.8"/><rect x="306.5" y="475.6" width="3.8" height="3.8"/><rect x="311.3" y="474.4" width="3.8" height="3.8"/><rect x="315.4" y="475" width="3.8" height="3.8"/><rect x="319.5" y="478" width="3.8" height="3.8"/><rect x="299.4" y="478.6" width="3.8" height="3.8"/><rect x="304.8" y="478.6" width="3.8" height="3.8"/><rect x="312.4" y="478.6" width="3.8" height="3.8"/><rect x="298.3" y="483.3" width="3.8" height="3.8"/><rect x="303" y="484.5" width="3.8" height="3.8"/><rect x="307.7" y="482.1" width="3.8" height="3.8"/><rect x="313" y="482.1" width="3.8" height="3.8"/><rect x="305.9" y="494.5" width="3.8" height="3.8"/><rect x="305.9" y="516.4" width="3.8" height="3.8"/><rect x="300.1" y="466.6" width="3.8" height="3.8"/><rect x="304.1" y="466.6" width="3.8" height="3.8"/><rect x="309.1" y="466.6" width="3.8" height="3.8"/><rect x="294.1" y="474.1" width="3.8" height="3.8"/><rect x="298.1" y="474.1" width="3.8" height="3.8"/><rect x="303.6" y="474.1" width="3.8" height="3.8"/><rect x="309.1" y="474.1" width="3.8" height="3.8"/><rect x="314.1" y="474.1" width="3.8" height="3.8"/><rect x="297.1" y="481.1" width="3.8" height="3.8"/><rect x="301.1" y="481.1" width="3.8" height="3.8"/><rect x="306.1" y="481.1" width="3.8" height="3.8"/><rect x="310.1" y="481.1" width="3.8" height="3.8"/><rect x="315.1" y="481.1" width="3.8" height="3.8"/><rect x="299.1" y="442.6" width="3.8" height="3.8"/><rect x="303.1" y="442.6" width="3.8" height="3.8"/><rect x="311.1" y="442.6" width="3.8" height="3.8"/></g>
<path d="M249.3 464.3H266.1M249.3 474.7H266.1M257.7 464.3V474.7M300.7 452.5H315.7M300.7 463.4H315.7M308.2 452.5V463.4" fill="none" stroke="#333" stroke-width="0.9"/>
<path d="M241.2 469H274.2M291.4 457.2H325" fill="none" stroke="#000" stroke-width="1.45"/>
<path d="M398.5 410.6V528.4H515.9" fill="none" stroke="#000" stroke-width="1.6"/>
<path d="M393.3 410.6H398.5M393.3 440.05H398.5M393.3 469.5H398.5M393.3 498.95H398.5M393.3 528.4H398.5M431.7 528.4v5M482.4 528.4v5" fill="none" stroke="#000" stroke-width="1.4"/>
<text x="392.1" y="414.1" text-anchor="end" font-size="9.4" font-weight="bold">10<tspan font-size="5.8" dx="1.0" dy="-2.7">4</tspan></text>
<text x="392.1" y="443.55" text-anchor="end" font-size="9.4" font-weight="bold">10<tspan font-size="5.8" dx="1.0" dy="-2.7">3</tspan></text>
<text x="392.1" y="473" text-anchor="end" font-size="9.4" font-weight="bold">10<tspan font-size="5.8" dx="1.0" dy="-2.7">2</tspan></text>
<text x="392.1" y="502.45" text-anchor="end" font-size="9.4" font-weight="bold">10<tspan font-size="5.8" dx="1.0" dy="-2.7">1</tspan></text>
<text x="392.1" y="531.9" text-anchor="end" font-size="9.4" font-weight="bold">10<tspan font-size="5.8" dx="1.0" dy="-2.7">0</tspan></text>
<text id="lab_a11" transform="translate(368.9 469.5) rotate(-90)" text-anchor="middle" font-weight="bold" font-size="11.6">MCP-1<tspan id="lp_a11" font-size="9.5">(pg/ml)</tspan></text>
<text x="457.15" y="417.95" text-anchor="middle" font-size="10" fill="#333">*</text>
<text transform="translate(434.3 541) rotate(-45)" text-anchor="end" font-size="9.05" font-weight="bold">Non-pneumonia</text>
<text transform="translate(485 541) rotate(-45)" text-anchor="end" font-size="9.05" font-weight="bold">Pneumonia</text>
<g fill="#111"><circle cx="430" cy="453.8" r="1.9"/><circle cx="433.5" cy="458" r="1.9"/><circle cx="437.2" cy="460.6" r="1.9"/><circle cx="430.1" cy="462.5" r="1.9"/><circle cx="426.3" cy="465.5" r="1.9"/><circle cx="433.5" cy="465.9" r="1.9"/><circle cx="439.1" cy="471.6" r="1.9"/><circle cx="428.2" cy="474.2" r="1.9"/><circle cx="424.4" cy="475.7" r="1.9"/><circle cx="431.6" cy="475.3" r="1.9"/><circle cx="435.3" cy="475.3" r="1.9"/><circle cx="420.7" cy="478" r="1.9"/><circle cx="428.2" cy="478.3" r="1.9"/><circle cx="431.6" cy="477.2" r="1.9"/><circle cx="416.9" cy="482.1" r="1.9"/><circle cx="422.2" cy="483.2" r="1.9"/><circle cx="424.4" cy="482.1" r="1.9"/><circle cx="425.9" cy="484" r="1.9"/><circle cx="435" cy="481.3" r="1.9"/><circle cx="439.1" cy="481" r="1.9"/><circle cx="442.9" cy="481.3" r="1.9"/><circle cx="446.2" cy="482.1" r="1.9"/><circle cx="430.1" cy="485.5" r="1.9"/><circle cx="437.2" cy="485.1" r="1.9"/><circle cx="441" cy="487.4" r="1.9"/><circle cx="426.3" cy="488.5" r="1.9"/><circle cx="430.1" cy="490" r="1.9"/><circle cx="433.5" cy="488.1" r="1.9"/><circle cx="437.2" cy="492.2" r="1.9"/><circle cx="441" cy="493.4" r="1.9"/><circle cx="422.5" cy="493.4" r="1.9"/><circle cx="426.3" cy="495.6" r="1.9"/><circle cx="430.1" cy="496" r="1.9"/><circle cx="433.5" cy="496.8" r="1.9"/><circle cx="437.2" cy="499" r="1.9"/><circle cx="431.6" cy="519.3" r="1.9"/><rect x="480.3" y="435.9" width="3.8" height="3.8"/><rect x="480" y="442.5" width="3.8" height="3.8"/><rect x="483.1" y="443.5" width="3.8" height="3.8"/><rect x="478" y="445" width="3.8" height="3.8"/><rect x="481.6" y="450.7" width="3.8" height="3.8"/><rect x="484.1" y="452.2" width="3.8" height="3.8"/><rect x="477" y="456.8" width="3.8" height="3.8"/><rect x="481.1" y="456.3" width="3.8" height="3.8"/><rect x="488.7" y="457.8" width="3.8" height="3.8"/><rect x="471.9" y="459.3" width="3.8" height="3.8"/><rect x="476" y="459.8" width="3.8" height="3.8"/><rect x="483.6" y="459.3" width="3.8" height="3.8"/><rect x="477.5" y="462.4" width="3.8" height="3.8"/><rect x="482.6" y="461.9" width="3.8" height="3.8"/><rect x="486.2" y="462.4" width="3.8" height="3.8"/><rect x="476.5" y="467" width="3.8" height="3.8"/><rect x="481.1" y="466" width="3.8" height="3.8"/><rect x="484.6" y="464.9" width="3.8" height="3.8"/><rect x="477.5" y="470" width="3.8" height="3.8"/><rect x="483.1" y="469" width="3.8" height="3.8"/><rect x="472.4" y="473.1" width="3.8" height="3.8"/><rect x="482.6" y="473.1" width="3.8" height="3.8"/><rect x="488.7" y="471.6" width="3.8" height="3.8"/><rect x="471.4" y="475.7" width="3.8" height="3.8"/><rect x="476.5" y="475.1" width="3.8" height="3.8"/><rect x="482.6" y="475.1" width="3.8" height="3.8"/><rect x="485.7" y="474.6" width="3.8" height="3.8"/><rect x="465.8" y="478.7" width="3.8" height="3.8"/><rect x="469.3" y="477.7" width="3.8" height="3.8"/><rect x="476" y="478.7" width="3.8" height="3.8"/><rect x="482.6" y="478.2" width="3.8" height="3.8"/><rect x="490.8" y="478.2" width="3.8" height="3.8"/><rect x="494.8" y="476.7" width="3.8" height="3.8"/><rect x="479.5" y="481.3" width="3.8" height="3.8"/><rect x="484.6" y="481.3" width="3.8" height="3.8"/><rect x="488.7" y="480.2" width="3.8" height="3.8"/><rect x="469.3" y="484.3" width="3.8" height="3.8"/><rect x="473.4" y="484.8" width="3.8" height="3.8"/><rect x="480.5" y="484.3" width="3.8" height="3.8"/><rect x="485.7" y="484.3" width="3.8" height="3.8"/><rect x="476.5" y="487.4" width="3.8" height="3.8"/><rect x="481.6" y="487.4" width="3.8" height="3.8"/><rect x="484.6" y="488.4" width="3.8" height="3.8"/><rect x="490.8" y="487.4" width="3.8" height="3.8"/><rect x="480.5" y="490.4" width="3.8" height="3.8"/><rect x="484.6" y="490.4" width="3.8" height="3.8"/><rect x="487.7" y="493.5" width="3.8" height="3.8"/><rect x="472.9" y="493.5" width="3.8" height="3.8"/><rect x="477.5" y="493.5" width="3.8" height="3.8"/><rect x="477.5" y="496.6" width="3.8" height="3.8"/><rect x="480" y="499.1" width="3.8" height="3.8"/><rect x="482.6" y="501.7" width="3.8" height="3.8"/><rect x="468.1" y="472.1" width="3.8" height="3.8"/><rect x="472.6" y="472.1" width="3.8" height="3.8"/><rect x="479.6" y="472.1" width="3.8" height="3.8"/><rect x="472.6" y="478.6" width="3.8" height="3.8"/><rect x="487.1" y="478.6" width="3.8" height="3.8"/><rect x="465.1" y="483.1" width="3.8" height="3.8"/><rect x="468.6" y="483.1" width="3.8" height="3.8"/><rect x="477.1" y="483.1" width="3.8" height="3.8"/><rect x="489.6" y="483.1" width="3.8" height="3.8"/><rect x="467.6" y="488.6" width="3.8" height="3.8"/><rect x="472.6" y="488.6" width="3.8" height="3.8"/><rect x="487.6" y="488.6" width="3.8" height="3.8"/></g>
<path d="M423.85 471.2H439.65M423.85 481.5H439.65M431.75 471.2V481.5M474.4 459H490.4M474.4 472.5H490.4M482.4 459V472.5" fill="none" stroke="#333" stroke-width="0.9"/>
<path d="M415.05 475.9H448.45M466.1 465.8H498.7" fill="none" stroke="#000" stroke-width="1.45"/>
<path d="M50.9 608.3V723H166.3" fill="none" stroke="#000" stroke-width="1.6"/>
<path d="M45.7 608.3H50.9M45.7 636.97H50.9M45.7 665.65H50.9M45.7 694.33H50.9M45.7 723H50.9M83.1 723v5M132.6 723v5" fill="none" stroke="#000" stroke-width="1.4"/>
<text x="44.5" y="611.8" text-anchor="end" font-size="9.4" font-weight="bold">10<tspan font-size="5.8" dx="1.0" dy="-2.7">4</tspan></text>
<text x="44.5" y="640.47" text-anchor="end" font-size="9.4" font-weight="bold">10<tspan font-size="5.8" dx="1.0" dy="-2.7">3</tspan></text>
<text x="44.5" y="669.15" text-anchor="end" font-size="9.4" font-weight="bold">10<tspan font-size="5.8" dx="1.0" dy="-2.7">2</tspan></text>
<text x="44.5" y="697.83" text-anchor="end" font-size="9.4" font-weight="bold">10<tspan font-size="5.8" dx="1.0" dy="-2.7">1</tspan></text>
<text x="44.5" y="726.5" text-anchor="end" font-size="9.4" font-weight="bold">10<tspan font-size="5.8" dx="1.0" dy="-2.7">0</tspan></text>
<text id="lab_b1" transform="translate(22.7 665.65) rotate(-90)" text-anchor="middle" font-weight="bold" font-size="11.0">IL-6<tspan id="lp_b1" font-size="10.0">(pg/ml)</tspan></text>
<text x="104.2" y="615.35" text-anchor="middle" font-size="10" fill="#333">****</text>
<text x="83.1" y="737.3" text-anchor="middle" font-size="9.4" font-weight="bold">A</text>
<text x="132.6" y="737.3" text-anchor="middle" font-size="9.4" font-weight="bold">B</text>
<g fill="#111"><circle cx="83.4" cy="653.5" r="2.3"/><circle cx="86.4" cy="665.8" r="2.3"/><circle cx="84" cy="667.5" r="2.3"/><circle cx="81.5" cy="668.3" r="2.3"/><circle cx="80.3" cy="670.8" r="2.3"/><circle cx="80.3" cy="676.4" r="2.3"/><circle cx="88.4" cy="676" r="2.3"/><circle cx="90.4" cy="679.6" r="2.3"/><circle cx="82.7" cy="679.6" r="2.3"/><circle cx="76.7" cy="682" r="2.3"/><circle cx="80.3" cy="682.4" r="2.3"/><circle cx="84.3" cy="682.8" r="2.3"/><circle cx="86.8" cy="682" r="2.3"/><circle cx="77.9" cy="686.1" r="2.3"/><circle cx="81.1" cy="685.3" r="2.3"/><circle cx="85.2" cy="686.9" r="2.3"/><circle cx="88.4" cy="687.7" r="2.3"/><circle cx="80.3" cy="690.1" r="2.3"/><circle cx="85.2" cy="690.9" r="2.3"/><circle cx="88.4" cy="690.1" r="2.3"/><circle cx="75.5" cy="694.1" r="2.3"/><circle cx="77.9" cy="693.3" r="2.3"/><circle cx="82.7" cy="694.9" r="2.3"/><circle cx="87.6" cy="694.9" r="2.3"/><circle cx="91.2" cy="693.3" r="2.3"/><circle cx="69.9" cy="700.6" r="2.3"/><circle cx="73.9" cy="701.4" r="2.3"/><circle cx="77.1" cy="702.2" r="2.3"/><circle cx="81.9" cy="700.6" r="2.3"/><circle cx="85.2" cy="699.7" r="2.3"/><circle cx="88.8" cy="698.9" r="2.3"/><circle cx="91.6" cy="703" r="2.3"/><circle cx="94.8" cy="701.4" r="2.3"/><circle cx="97.2" cy="706.2" r="2.3"/><circle cx="81.1" cy="704.6" r="2.3"/><circle cx="85.2" cy="704.6" r="2.3"/><circle cx="93.2" cy="704.6" r="2.3"/><circle cx="71.5" cy="707" r="2.3"/><circle cx="80.3" cy="711" r="2.3"/><circle cx="83.5" cy="712.6" r="2.3"/><circle cx="86.8" cy="714.2" r="2.3"/><rect x="127.7" y="628.3" width="4.4" height="4.4"/><rect x="133" y="631" width="4.4" height="4.4"/><rect x="130.4" y="643.8" width="4.4" height="4.4"/><rect x="119.8" y="645.6" width="4.4" height="4.4"/><rect x="141.3" y="646.8" width="4.4" height="4.4"/><rect x="125.1" y="648.7" width="4.4" height="4.4"/><rect x="136" y="650.2" width="4.4" height="4.4"/><rect x="127.7" y="666" width="4.4" height="4.4"/><rect x="133" y="666.3" width="4.4" height="4.4"/><rect x="116.8" y="671.2" width="4.4" height="4.4"/><rect x="122.1" y="670.5" width="4.4" height="4.4"/><rect x="138.3" y="669.3" width="4.4" height="4.4"/><rect x="143.9" y="669.3" width="4.4" height="4.4"/><rect x="122.1" y="677.2" width="4.4" height="4.4"/><rect x="127.7" y="679.9" width="4.4" height="4.4"/><rect x="133" y="680.3" width="4.4" height="4.4"/><rect x="138.7" y="681.4" width="4.4" height="4.4"/></g>
<path d="M75.5 680.5H91.5M75.5 688H91.5M83.5 680.5V688M124.6 647.2H140.6M124.6 656.7H140.6M132.6 647.2V656.7" fill="none" stroke="#333" stroke-width="0.9"/>
<path d="M67.3 683.9H99.7M116.4 651.5H148.8" fill="none" stroke="#000" stroke-width="1.45"/>
<path d="M224 610.5V723H337.3" fill="none" stroke="#000" stroke-width="1.6"/>
<path d="M218.8 610.5H224M218.8 638.62H224M218.8 666.75H224M218.8 694.88H224M218.8 723H224M255.8 723v5M304.6 723v5" fill="none" stroke="#000" stroke-width="1.4"/>
<text x="217.6" y="614" text-anchor="end" font-size="9.4" font-weight="bold">10<tspan font-size="5.8" dx="1.0" dy="-2.7">3</tspan></text>
<text x="217.6" y="642.12" text-anchor="end" font-size="9.4" font-weight="bold">10<tspan font-size="5.8" dx="1.0" dy="-2.7">2</tspan></text>
<text x="217.6" y="670.25" text-anchor="end" font-size="9.4" font-weight="bold">10<tspan font-size="5.8" dx="1.0" dy="-2.7">1</tspan></text>
<text x="217.6" y="698.38" text-anchor="end" font-size="9.4" font-weight="bold">10<tspan font-size="5.8" dx="1.0" dy="-2.7">0</tspan></text>
<text x="217.6" y="726.5" text-anchor="end" font-size="9.4" font-weight="bold">10<tspan font-size="5.8" dx="1.0" dy="-2.7">-1</tspan></text>
<text id="lab_b2" transform="translate(193.7 666.75) rotate(-90)" text-anchor="middle" font-weight="bold" font-size="11.0">IFN-γ<tspan id="lp_b2" font-size="9.1">(pg/ml)</tspan></text>
<text x="275.5" y="617.95" text-anchor="middle" font-size="10" fill="#333">****</text>
<text x="255.8" y="737.3" text-anchor="middle" font-size="9.4" font-weight="bold">A</text>
<text x="304.6" y="737.3" text-anchor="middle" font-size="9.4" font-weight="bold">B</text>
<g fill="#111"><circle cx="256.2" cy="641.6" r="2.3"/><circle cx="257.9" cy="643.3" r="2.3"/><circle cx="254" cy="645" r="2.3"/><circle cx="255.8" cy="649.3" r="2.3"/><circle cx="244.2" cy="651.5" r="2.3"/><circle cx="247.2" cy="650.2" r="2.3"/><circle cx="250.2" cy="651.5" r="2.3"/><circle cx="253.6" cy="651.9" r="2.3"/><circle cx="264.8" cy="650.6" r="2.3"/><circle cx="268.2" cy="651.5" r="2.3"/><circle cx="243.3" cy="654.9" r="2.3"/><circle cx="246.7" cy="654.9" r="2.3"/><circle cx="250.2" cy="654.9" r="2.3"/><circle cx="254.5" cy="654.1" r="2.3"/><circle cx="257.9" cy="654.9" r="2.3"/><circle cx="262.2" cy="653.6" r="2.3"/><circle cx="266.5" cy="654.1" r="2.3"/><circle cx="242.5" cy="658.4" r="2.3"/><circle cx="245.9" cy="659.2" r="2.3"/><circle cx="250.2" cy="658.4" r="2.3"/><circle cx="254.5" cy="657.5" r="2.3"/><circle cx="258.8" cy="657.5" r="2.3"/><circle cx="264.8" cy="657.5" r="2.3"/><circle cx="269.1" cy="660.9" r="2.3"/><circle cx="242.5" cy="660.9" r="2.3"/><circle cx="246.7" cy="660.9" r="2.3"/><circle cx="250.2" cy="660.9" r="2.3"/><circle cx="255.3" cy="660.9" r="2.3"/><circle cx="261.4" cy="660.1" r="2.3"/><circle cx="267.4" cy="662.6" r="2.3"/><circle cx="251.9" cy="666.1" r="2.3"/><circle cx="255.3" cy="665.7" r="2.3"/><circle cx="258.8" cy="664.4" r="2.3"/><circle cx="263.1" cy="663.5" r="2.3"/><circle cx="257.9" cy="670.4" r="2.3"/><circle cx="256.2" cy="697.4" r="2.3"/><rect x="302.5" y="630.6" width="4.4" height="4.4"/><rect x="289.7" y="633.6" width="4.4" height="4.4"/><rect x="295.9" y="635.2" width="4.4" height="4.4"/><rect x="308.7" y="634.6" width="4.4" height="4.4"/><rect x="315.3" y="638.2" width="4.4" height="4.4"/><rect x="302.5" y="638.8" width="4.4" height="4.4"/><rect x="302.5" y="642.8" width="4.4" height="4.4"/><rect x="289.7" y="644.4" width="4.4" height="4.4"/><rect x="295.9" y="644.7" width="4.4" height="4.4"/><rect x="308.7" y="646.1" width="4.4" height="4.4"/><rect x="315.3" y="646.1" width="4.4" height="4.4"/><rect x="312" y="650" width="4.4" height="4.4"/><rect x="292.6" y="651.6" width="4.4" height="4.4"/><rect x="299.2" y="653.6" width="4.4" height="4.4"/><rect x="299.2" y="657.2" width="4.4" height="4.4"/><rect x="305.4" y="653.6" width="4.4" height="4.4"/><rect x="305.4" y="662.8" width="4.4" height="4.4"/></g>
<path d="M248.7 653H263.7M248.7 659H263.7M256.2 653V659M296.6 642.3H312.4M296.6 647H312.4M304.5 642.3V647" fill="none" stroke="#333" stroke-width="0.9"/>
<path d="M240.3 655.8H272.1M288.2 644.4H320.8" fill="none" stroke="#000" stroke-width="1.45"/>
<path d="M394.5 608.3V723H509.8" fill="none" stroke="#000" stroke-width="1.6"/>
<path d="M389.3 608.3H394.5M389.3 636.97H394.5M389.3 665.65H394.5M389.3 694.33H394.5M389.3 723H394.5M427 723v5M476.3 723v5" fill="none" stroke="#000" stroke-width="1.4"/>
<text x="388.1" y="611.8" text-anchor="end" font-size="9.4" font-weight="bold">10<tspan font-size="5.8" dx="1.0" dy="-2.7">4</tspan></text>
<text x="388.1" y="640.47" text-anchor="end" font-size="9.4" font-weight="bold">10<tspan font-size="5.8" dx="1.0" dy="-2.7">3</tspan></text>
<text x="388.1" y="669.15" text-anchor="end" font-size="9.4" font-weight="bold">10<tspan font-size="5.8" dx="1.0" dy="-2.7">2</tspan></text>
<text x="388.1" y="697.83" text-anchor="end" font-size="9.4" font-weight="bold">10<tspan font-size="5.8" dx="1.0" dy="-2.7">1</tspan></text>
<text x="388.1" y="726.5" text-anchor="end" font-size="9.4" font-weight="bold">10<tspan font-size="5.8" dx="1.0" dy="-2.7">0</tspan></text>
<text id="lab_b3" transform="translate(367.3 665.65) rotate(-90)" text-anchor="middle" font-weight="bold" font-size="10.9">MCP-1<tspan id="lp_b3" font-size="9.7">(pg/ml)</tspan></text>
<text x="450.5" y="615.95" text-anchor="middle" font-size="10" fill="#333">***</text>
<text x="427" y="737.3" text-anchor="middle" font-size="9.4" font-weight="bold">A</text>
<text x="476.3" y="737.3" text-anchor="middle" font-size="9.4" font-weight="bold">B</text>
<g fill="#111"><circle cx="426.1" cy="649" r="2.3"/><circle cx="428.7" cy="650.9" r="2.3"/><circle cx="422.3" cy="654.7" r="2.3"/><circle cx="420.4" cy="656.6" r="2.3"/><circle cx="425.3" cy="656.6" r="2.3"/><circle cx="427.6" cy="655" r="2.3"/><circle cx="431.3" cy="658.1" r="2.3"/><circle cx="434.3" cy="660.7" r="2.3"/><circle cx="423.8" cy="659.2" r="2.3"/><circle cx="423.1" cy="663.3" r="2.3"/><circle cx="426.1" cy="663.3" r="2.3"/><circle cx="429.8" cy="664.5" r="2.3"/><circle cx="432.1" cy="663.3" r="2.3"/><circle cx="427.6" cy="669" r="2.3"/><circle cx="418.5" cy="670.9" r="2.3"/><circle cx="422.3" cy="671.6" r="2.3"/><circle cx="431.3" cy="671.6" r="2.3"/><circle cx="436.6" cy="673.1" r="2.3"/><circle cx="441.1" cy="672.4" r="2.3"/><circle cx="414" cy="675" r="2.3"/><circle cx="417.8" cy="674.2" r="2.3"/><circle cx="424.6" cy="675.4" r="2.3"/><circle cx="428.3" cy="676.1" r="2.3"/><circle cx="433.6" cy="675.4" r="2.3"/><circle cx="438.1" cy="675.4" r="2.3"/><circle cx="417.8" cy="679.1" r="2.3"/><circle cx="421.6" cy="680.6" r="2.3"/><circle cx="426.1" cy="679.1" r="2.3"/><circle cx="430.6" cy="679.9" r="2.3"/><circle cx="434.3" cy="678.4" r="2.3"/><circle cx="424.6" cy="684.4" r="2.3"/><circle cx="427.6" cy="685.1" r="2.3"/><circle cx="431.3" cy="683.6" r="2.3"/><circle cx="436.2" cy="684.4" r="2.3"/><circle cx="426.1" cy="688.2" r="2.3"/><circle cx="429.1" cy="688.2" r="2.3"/><circle cx="433.6" cy="688.9" r="2.3"/><circle cx="420.8" cy="691.2" r="2.3"/><circle cx="423.1" cy="690.4" r="2.3"/><circle cx="424.6" cy="693.4" r="2.3"/><circle cx="427.6" cy="695.7" r="2.3"/><circle cx="430.6" cy="699.1" r="2.3"/><circle cx="419.5" cy="666.5" r="2.3"/><circle cx="434" cy="666.5" r="2.3"/><circle cx="419.5" cy="682" r="2.3"/><circle cx="429" cy="682" r="2.3"/><circle cx="428.5" cy="661" r="2.3"/><rect x="474.2" y="632.3" width="4.4" height="4.4"/><rect x="461.9" y="639.2" width="4.4" height="4.4"/><rect x="470.1" y="641" width="4.4" height="4.4"/><rect x="478.3" y="640.2" width="4.4" height="4.4"/><rect x="486.5" y="642.1" width="4.4" height="4.4"/><rect x="461.9" y="652.7" width="4.4" height="4.4"/><rect x="470.1" y="655.6" width="4.4" height="4.4"/><rect x="478.3" y="656.6" width="4.4" height="4.4"/><rect x="486.5" y="654" width="4.4" height="4.4"/><rect x="478.3" y="664.1" width="4.4" height="4.4"/><rect x="486.5" y="666.1" width="4.4" height="4.4"/><rect x="470.1" y="667.5" width="4.4" height="4.4"/><rect x="461.9" y="669.9" width="4.4" height="4.4"/><rect x="470.1" y="674" width="4.4" height="4.4"/><rect x="478.3" y="680.3" width="4.4" height="4.4"/><rect x="470.1" y="683" width="4.4" height="4.4"/><rect x="478.3" y="689" width="4.4" height="4.4"/></g>
<path d="M419.5 667.1H435.3M419.5 671.5H435.3M427.4 667.1V671.5M468.5 649.2H484.5M468.5 656.2H484.5M476.5 649.2V656.2" fill="none" stroke="#333" stroke-width="0.9"/>
<path d="M411 668.8H443.8M460.3 652.3H492.7" fill="none" stroke="#000" stroke-width="1.45"/>
<path d="M570.4 610.8V723.6H684" fill="none" stroke="#000" stroke-width="1.6"/>
<path d="M565.2 610.8H570.4M565.2 639H570.4M565.2 667.2H570.4M565.2 695.4H570.4M565.2 723.6H570.4M602.2 723.6v5M650.8 723.6v5" fill="none" stroke="#000" stroke-width="1.4"/>
<text x="564" y="614.3" text-anchor="end" font-size="9.4" font-weight="bold">10<tspan font-size="5.8" dx="1.0" dy="-2.7">2</tspan></text>
<text x="564" y="642.5" text-anchor="end" font-size="9.4" font-weight="bold">10<tspan font-size="5.8" dx="1.0" dy="-2.7">1</tspan></text>
<text x="564" y="670.7" text-anchor="end" font-size="9.4" font-weight="bold">10<tspan font-size="5.8" dx="1.0" dy="-2.7">0</tspan></text>
<text x="564" y="698.9" text-anchor="end" font-size="9.4" font-weight="bold">10<tspan font-size="5.8" dx="1.0" dy="-2.7">-1</tspan></text>
<text x="564" y="727.1" text-anchor="end" font-size="9.4" font-weight="bold">10<tspan font-size="5.8" dx="1.0" dy="-2.7">-2</tspan></text>
<text id="lab_b4" transform="translate(540.3 667.8) rotate(-90)" text-anchor="middle" font-weight="bold" font-size="11.05">MCP-3<tspan id="lp_b4" font-size="9.7">(pg/ml)</tspan></text>
<text x="623.5" y="618.55" text-anchor="middle" font-size="10" fill="#333">***</text>
<text x="602.2" y="737.9" text-anchor="middle" font-size="9.4" font-weight="bold">A</text>
<text x="650.8" y="737.9" text-anchor="middle" font-size="9.4" font-weight="bold">B</text>
<g fill="#111"><circle cx="602.3" cy="628.6" r="2.3"/><circle cx="604.1" cy="634.8" r="2.3"/><circle cx="600.6" cy="640.6" r="2.3"/><circle cx="602.3" cy="641.9" r="2.3"/><circle cx="598.9" cy="642.8" r="2.3"/><circle cx="606.6" cy="644.1" r="2.3"/><circle cx="609.2" cy="645.8" r="2.3"/><circle cx="596.3" cy="646.6" r="2.3"/><circle cx="600.6" cy="647.5" r="2.3"/><circle cx="604.9" cy="647.5" r="2.3"/><circle cx="592" cy="650.1" r="2.3"/><circle cx="597.2" cy="650.1" r="2.3"/><circle cx="602.3" cy="650.1" r="2.3"/><circle cx="606.6" cy="650.1" r="2.3"/><circle cx="614.4" cy="649.2" r="2.3"/><circle cx="616.1" cy="650.5" r="2.3"/><circle cx="588.6" cy="653.9" r="2.3"/><circle cx="593.7" cy="653.5" r="2.3"/><circle cx="598.9" cy="653.5" r="2.3"/><circle cx="604.1" cy="653.5" r="2.3"/><circle cx="608.4" cy="654.4" r="2.3"/><circle cx="612.6" cy="652.6" r="2.3"/><circle cx="592.9" cy="656.9" r="2.3"/><circle cx="597.2" cy="657.8" r="2.3"/><circle cx="602.3" cy="657.8" r="2.3"/><circle cx="605.8" cy="656.9" r="2.3"/><circle cx="609.2" cy="656.9" r="2.3"/><circle cx="598" cy="660.4" r="2.3"/><circle cx="602.3" cy="661.2" r="2.3"/><circle cx="606.6" cy="660.4" r="2.3"/><circle cx="611.8" cy="659.9" r="2.3"/><circle cx="597.2" cy="665.5" r="2.3"/><circle cx="601.5" cy="665.5" r="2.3"/><circle cx="605.8" cy="664.7" r="2.3"/><circle cx="610.1" cy="663" r="2.3"/><circle cx="601" cy="668.5" r="2.3"/><circle cx="604.9" cy="672.4" r="2.3"/><circle cx="602.3" cy="695.6" r="2.3"/><rect x="645.4" y="618.3" width="4.4" height="4.4"/><rect x="651.8" y="620.2" width="4.4" height="4.4"/><rect x="645.4" y="628.9" width="4.4" height="4.4"/><rect x="651.8" y="628.1" width="4.4" height="4.4"/><rect x="639" y="636" width="4.4" height="4.4"/><rect x="651.8" y="636.4" width="4.4" height="4.4"/><rect x="658.2" y="635.6" width="4.4" height="4.4"/><rect x="645.4" y="639" width="4.4" height="4.4"/><rect x="648.4" y="644.3" width="4.4" height="4.4"/><rect x="654.8" y="645" width="4.4" height="4.4"/><rect x="661.5" y="648.1" width="4.4" height="4.4"/><rect x="635.6" y="648.8" width="4.4" height="4.4"/><rect x="642" y="648.8" width="4.4" height="4.4"/><rect x="639" y="653.3" width="4.4" height="4.4"/><rect x="645.4" y="653.3" width="4.4" height="4.4"/><rect x="651.8" y="656" width="4.4" height="4.4"/><rect x="658.2" y="659" width="4.4" height="4.4"/></g>
<path d="M594.7 648H609.7M594.7 653H609.7M602.2 648V653M642.8 634.3H658.8M642.8 641.2H658.8M650.8 634.3V641.2" fill="none" stroke="#333" stroke-width="0.9"/>
<path d="M586.2 650.5H618.2M634.8 637.5H666.8" fill="none" stroke="#000" stroke-width="1.45"/>
<path d="M50.3 800.6V915.6H165.3" fill="none" stroke="#000" stroke-width="1.6"/>
<path d="M45.1 800.6H50.3M45.1 838.93H50.3M45.1 877.27H50.3M45.1 915.6H50.3M82.5 915.6v5M132 915.6v5" fill="none" stroke="#000" stroke-width="1.4"/>
<text x="43.9" y="804.1" text-anchor="end" font-size="9.4" font-weight="bold">10<tspan font-size="5.8" dx="1.0" dy="-2.7">3</tspan></text>
<text x="43.9" y="842.43" text-anchor="end" font-size="9.4" font-weight="bold">10<tspan font-size="5.8" dx="1.0" dy="-2.7">2</tspan></text>
<text x="43.9" y="880.77" text-anchor="end" font-size="9.4" font-weight="bold">10<tspan font-size="5.8" dx="1.0" dy="-2.7">1</tspan></text>
<text x="43.9" y="919.1" text-anchor="end" font-size="9.4" font-weight="bold">10<tspan font-size="5.8" dx="1.0" dy="-2.7">0</tspan></text>
<text id="lab_b5" transform="translate(22.1 858.1) rotate(-90)" text-anchor="middle" font-weight="bold" font-size="11.4">M-CSF<tspan id="lp_b5" font-size="9.4">(pg/ml)</tspan></text>
<text x="106.4" y="807.95" text-anchor="middle" font-size="10" fill="#333">***</text>
<text x="82.5" y="929.9" text-anchor="middle" font-size="9.4" font-weight="bold">A</text>
<text x="132" y="929.9" text-anchor="middle" font-size="9.4" font-weight="bold">B</text>
<g fill="#111"><circle cx="82.8" cy="811.8" r="2.3"/><circle cx="79.6" cy="835.6" r="2.3"/><circle cx="82.8" cy="834.7" r="2.3"/><circle cx="86" cy="834.7" r="2.3"/><circle cx="78.2" cy="837.8" r="2.3"/><circle cx="81.9" cy="838.8" r="2.3"/><circle cx="84.6" cy="838.3" r="2.3"/><circle cx="75.5" cy="842" r="2.3"/><circle cx="79.6" cy="842.4" r="2.3"/><circle cx="83.7" cy="842.4" r="2.3"/><circle cx="89.7" cy="841" r="2.3"/><circle cx="78.2" cy="845.1" r="2.3"/><circle cx="82.8" cy="845.1" r="2.3"/><circle cx="87.4" cy="844.2" r="2.3"/><circle cx="96" cy="846.1" r="2.3"/><circle cx="71" cy="849.7" r="2.3"/><circle cx="74.6" cy="848.8" r="2.3"/><circle cx="80.1" cy="847.9" r="2.3"/><circle cx="84.6" cy="847.9" r="2.3"/><circle cx="89.2" cy="847.9" r="2.3"/><circle cx="91.5" cy="848.8" r="2.3"/><circle cx="69.1" cy="852" r="2.3"/><circle cx="73.7" cy="852.4" r="2.3"/><circle cx="78.2" cy="852.4" r="2.3"/><circle cx="82.8" cy="851.5" r="2.3"/><circle cx="87.4" cy="851.1" r="2.3"/><circle cx="93.8" cy="852" r="2.3"/><circle cx="77.3" cy="858.8" r="2.3"/><circle cx="81" cy="859.7" r="2.3"/><circle cx="84.6" cy="857.9" r="2.3"/><circle cx="88.3" cy="859.7" r="2.3"/><circle cx="86.5" cy="856.1" r="2.3"/><circle cx="80.1" cy="862.5" r="2.3"/><circle cx="82.8" cy="862.5" r="2.3"/><circle cx="83.7" cy="867" r="2.3"/><circle cx="81.9" cy="882.6" r="2.3"/><circle cx="83.7" cy="884.4" r="2.3"/><rect x="126.2" y="828.6" width="4.4" height="4.4"/><rect x="129.5" y="829.3" width="4.4" height="4.4"/><rect x="133.4" y="829.6" width="4.4" height="4.4"/><rect x="123.9" y="831.9" width="4.4" height="4.4"/><rect x="128.2" y="836.9" width="4.4" height="4.4"/><rect x="131.5" y="837.5" width="4.4" height="4.4"/><rect x="135.4" y="836.2" width="4.4" height="4.4"/><rect x="135.4" y="839.5" width="4.4" height="4.4"/><rect x="130.1" y="839.5" width="4.4" height="4.4"/><rect x="116.7" y="844.1" width="4.4" height="4.4"/><rect x="120.3" y="844.1" width="4.4" height="4.4"/><rect x="124.2" y="844.7" width="4.4" height="4.4"/><rect x="127.8" y="846.7" width="4.4" height="4.4"/><rect x="127.8" y="844.1" width="4.4" height="4.4"/><rect x="139.3" y="842.8" width="4.4" height="4.4"/><rect x="143.3" y="843.1" width="4.4" height="4.4"/><rect x="131.8" y="853" width="4.4" height="4.4"/></g>
<path d="M75 843H90M75 849.5H90M82.5 843V849.5M125 838H139M125 843H139M132 838V843" fill="none" stroke="#333" stroke-width="0.9"/>
<path d="M66.5 846.2H98.5M115.9 840.6H148.1" fill="none" stroke="#000" stroke-width="1.45"/>
<path d="M222 800.6V915.6H336.5" fill="none" stroke="#000" stroke-width="1.6"/>
<path d="M216.8 800.6H222M216.8 838.93H222M216.8 877.27H222M216.8 915.6H222M254.4 915.6v5M303.6 915.6v5" fill="none" stroke="#000" stroke-width="1.4"/>
<text x="215.6" y="804.1" text-anchor="end" font-size="9.4" font-weight="bold">10<tspan font-size="5.8" dx="1.0" dy="-2.7">4</tspan></text>
<text x="215.6" y="842.43" text-anchor="end" font-size="9.4" font-weight="bold">10<tspan font-size="5.8" dx="1.0" dy="-2.7">3</tspan></text>
<text x="215.6" y="880.77" text-anchor="end" font-size="9.4" font-weight="bold">10<tspan font-size="5.8" dx="1.0" dy="-2.7">2</tspan></text>
<text x="215.6" y="919.1" text-anchor="end" font-size="9.4" font-weight="bold">10<tspan font-size="5.8" dx="1.0" dy="-2.7">1</tspan></text>
<text id="lab_b6" transform="translate(193.5 858.1) rotate(-90)" text-anchor="middle" font-weight="bold" font-size="11.8">G-CSF<tspan id="lp_b6" font-size="9.4">(pg/ml)</tspan></text>
<text x="278.7" y="807.05" text-anchor="middle" font-size="10" fill="#333">**</text>
<text x="254.4" y="929.9" text-anchor="middle" font-size="9.4" font-weight="bold">A</text>
<text x="303.6" y="929.9" text-anchor="middle" font-size="9.4" font-weight="bold">B</text>
<g fill="#111"><circle cx="254.6" cy="831.5" r="2.3"/><circle cx="255.7" cy="836.4" r="2.3"/><circle cx="253.4" cy="839.8" r="2.3"/><circle cx="256.5" cy="854.1" r="2.3"/><circle cx="252.7" cy="856" r="2.3"/><circle cx="254.2" cy="858.2" r="2.3"/><circle cx="248.2" cy="861.6" r="2.3"/><circle cx="250.4" cy="863.1" r="2.3"/><circle cx="260.6" cy="860.9" r="2.3"/><circle cx="253.1" cy="865.4" r="2.3"/><circle cx="256.8" cy="866.1" r="2.3"/><circle cx="258" cy="868.4" r="2.3"/><circle cx="244.8" cy="868.8" r="2.3"/><circle cx="241" cy="871.8" r="2.3"/><circle cx="243.3" cy="870.6" r="2.3"/><circle cx="267.7" cy="868" r="2.3"/><circle cx="250.8" cy="872.1" r="2.3"/><circle cx="253.8" cy="872.9" r="2.3"/><circle cx="262.1" cy="870.6" r="2.3"/><circle cx="265.1" cy="874.4" r="2.3"/><circle cx="245.5" cy="875.1" r="2.3"/><circle cx="248.6" cy="875.9" r="2.3"/><circle cx="258" cy="875.1" r="2.3"/><circle cx="250.8" cy="879.7" r="2.3"/><circle cx="254.6" cy="881.2" r="2.3"/><circle cx="258.7" cy="878.9" r="2.3"/><circle cx="263.6" cy="880" r="2.3"/><circle cx="256.1" cy="883.4" r="2.3"/><circle cx="258.3" cy="885.7" r="2.3"/><circle cx="253.8" cy="885.7" r="2.3"/><circle cx="250.4" cy="888.3" r="2.3"/><circle cx="252.3" cy="890.2" r="2.3"/><circle cx="254.6" cy="892.1" r="2.3"/><circle cx="256.5" cy="895.8" r="2.3"/><circle cx="254.6" cy="811.9" r="2.3"/><rect x="301.5" y="813.1" width="4.4" height="4.4"/><rect x="301.5" y="837.7" width="4.4" height="4.4"/><rect x="293.3" y="853.6" width="4.4" height="4.4"/><rect x="309.7" y="853.9" width="4.4" height="4.4"/><rect x="298.6" y="857" width="4.4" height="4.4"/><rect x="304.1" y="859" width="4.4" height="4.4"/><rect x="304.1" y="861.9" width="4.4" height="4.4"/><rect x="293.3" y="863.8" width="4.4" height="4.4"/><rect x="298.6" y="863.3" width="4.4" height="4.4"/><rect x="304.1" y="863.8" width="4.4" height="4.4"/><rect x="309.7" y="863.6" width="4.4" height="4.4"/><rect x="315" y="863.6" width="4.4" height="4.4"/><rect x="288" y="867.6" width="4.4" height="4.4"/><rect x="293.3" y="874.4" width="4.4" height="4.4"/><rect x="298.6" y="876.1" width="4.4" height="4.4"/><rect x="304.1" y="878.1" width="4.4" height="4.4"/><rect x="309.7" y="878.5" width="4.4" height="4.4"/><rect x="301.4" y="800" width="4.4" height="4.4"/></g>
<path d="M246.5 853.2H262.3M246.5 865.4H262.3M254.4 853.2V865.4M295.8 831.4H311.8M295.8 852.3H311.8M303.8 831.4V852.3" fill="none" stroke="#333" stroke-width="0.9"/>
<path d="M238 858.2H270.8M287.4 838.8H320.2" fill="none" stroke="#000" stroke-width="1.45"/>
<path d="M394.5 800.6V915.6H509.6" fill="none" stroke="#000" stroke-width="1.6"/>
<path d="M389.3 800.6H394.5M389.3 838.93H394.5M389.3 877.27H394.5M389.3 915.6H394.5M427 915.6v5M476.3 915.6v5" fill="none" stroke="#000" stroke-width="1.4"/>
<text x="388.1" y="804.1" text-anchor="end" font-size="9.4" font-weight="bold">10<tspan font-size="5.8" dx="1.0" dy="-2.7">3</tspan></text>
<text x="388.1" y="842.43" text-anchor="end" font-size="9.4" font-weight="bold">10<tspan font-size="5.8" dx="1.0" dy="-2.7">2</tspan></text>
<text x="388.1" y="880.77" text-anchor="end" font-size="9.4" font-weight="bold">10<tspan font-size="5.8" dx="1.0" dy="-2.7">1</tspan></text>
<text x="388.1" y="919.1" text-anchor="end" font-size="9.4" font-weight="bold">10<tspan font-size="5.8" dx="1.0" dy="-2.7">0</tspan></text>
<text id="lab_b7" transform="translate(367.4 858.1) rotate(-90)" text-anchor="middle" font-weight="bold" font-size="11.4">IL-2 Ra<tspan id="lp_b7" font-size="9.2">(pg/ml)</tspan></text>
<text x="451.15" y="807.65" text-anchor="middle" font-size="10" fill="#333">**</text>
<text x="427" y="929.9" text-anchor="middle" font-size="9.4" font-weight="bold">A</text>
<text x="476.3" y="929.9" text-anchor="middle" font-size="9.4" font-weight="bold">B</text>
<g fill="#111"><circle cx="427" cy="821.5" r="2.3"/><circle cx="423.4" cy="828.4" r="2.3"/><circle cx="426.7" cy="829.1" r="2.3"/><circle cx="431.9" cy="828.1" r="2.3"/><circle cx="413.2" cy="833.7" r="2.3"/><circle cx="420.8" cy="831" r="2.3"/><circle cx="424.7" cy="831.7" r="2.3"/><circle cx="430" cy="831.7" r="2.3"/><circle cx="433.9" cy="832.3" r="2.3"/><circle cx="438.5" cy="833.3" r="2.3"/><circle cx="414.9" cy="837.6" r="2.3"/><circle cx="419.5" cy="835.6" r="2.3"/><circle cx="422.7" cy="835.6" r="2.3"/><circle cx="430.6" cy="835" r="2.3"/><circle cx="433.9" cy="836.3" r="2.3"/><circle cx="437.9" cy="836.3" r="2.3"/><circle cx="441.1" cy="836.3" r="2.3"/><circle cx="420.1" cy="839.6" r="2.3"/><circle cx="430" cy="838.9" r="2.3"/><circle cx="432.6" cy="840.2" r="2.3"/><circle cx="440.5" cy="837.6" r="2.3"/><circle cx="420.1" cy="842.9" r="2.3"/><circle cx="423.4" cy="844.2" r="2.3"/><circle cx="430" cy="842.9" r="2.3"/><circle cx="426.7" cy="846.1" r="2.3"/><circle cx="431.3" cy="845.5" r="2.3"/><circle cx="434.6" cy="846.1" r="2.3"/><circle cx="421.4" cy="850.7" r="2.3"/><circle cx="424.7" cy="852" r="2.3"/><circle cx="428" cy="849.4" r="2.3"/><circle cx="432.6" cy="849.4" r="2.3"/><circle cx="430.6" cy="855.3" r="2.3"/><circle cx="426.9" cy="878.7" r="2.3"/><circle cx="418" cy="833" r="2.3"/><circle cx="422" cy="833" r="2.3"/><circle cx="428" cy="833" r="2.3"/><circle cx="417" cy="840.5" r="2.3"/><circle cx="425" cy="840.5" r="2.3"/><circle cx="436" cy="840.5" r="2.3"/><circle cx="418.5" cy="846" r="2.3"/><circle cx="424" cy="846" r="2.3"/><circle cx="429" cy="846" r="2.3"/><rect x="470.9" y="813.4" width="4.4" height="4.4"/><rect x="477.4" y="817.3" width="4.4" height="4.4"/><rect x="477.4" y="821.9" width="4.4" height="4.4"/><rect x="464.3" y="822.9" width="4.4" height="4.4"/><rect x="484" y="822.9" width="4.4" height="4.4"/><rect x="470.9" y="826.2" width="4.4" height="4.4"/><rect x="477.4" y="827.5" width="4.4" height="4.4"/><rect x="470.9" y="830.5" width="4.4" height="4.4"/><rect x="464.3" y="831.1" width="4.4" height="4.4"/><rect x="484" y="833.1" width="4.4" height="4.4"/><rect x="461" y="837" width="4.4" height="4.4"/><rect x="480.7" y="837" width="4.4" height="4.4"/><rect x="487.3" y="837" width="4.4" height="4.4"/><rect x="467.6" y="840" width="4.4" height="4.4"/><rect x="474.1" y="841.6" width="4.4" height="4.4"/><rect x="470.9" y="846.9" width="4.4" height="4.4"/><rect x="477.4" y="849.5" width="4.4" height="4.4"/></g>
<path d="M419.5 836H434.5M419.5 841H434.5M427 836V841M468.5 828.6H484.5M468.5 833.1H484.5M476.5 828.6V833.1" fill="none" stroke="#333" stroke-width="0.9"/>
<path d="M411 838.4H443M460.2 831.2H492.8" fill="none" stroke="#000" stroke-width="1.45"/>
<path d="M568.3 800.6V915.6H683.5" fill="none" stroke="#000" stroke-width="1.6"/>
<path d="M563.1 800.6H568.3M563.1 829.35H568.3M563.1 858.1H568.3M563.1 886.85H568.3M563.1 915.6H568.3M600.7 915.6v5M650 915.6v5" fill="none" stroke="#000" stroke-width="1.4"/>
<text x="561.9" y="804.1" text-anchor="end" font-size="9.4" font-weight="bold">10<tspan font-size="5.8" dx="1.0" dy="-2.7">5</tspan></text>
<text x="561.9" y="832.85" text-anchor="end" font-size="9.4" font-weight="bold">10<tspan font-size="5.8" dx="1.0" dy="-2.7">4</tspan></text>
<text x="561.9" y="861.6" text-anchor="end" font-size="9.4" font-weight="bold">10<tspan font-size="5.8" dx="1.0" dy="-2.7">3</tspan></text>
<text x="561.9" y="890.35" text-anchor="end" font-size="9.4" font-weight="bold">10<tspan font-size="5.8" dx="1.0" dy="-2.7">2</tspan></text>
<text x="561.9" y="919.1" text-anchor="end" font-size="9.4" font-weight="bold">10<tspan font-size="5.8" dx="1.0" dy="-2.7">1</tspan></text>
<text id="lab_b8" transform="translate(540.4 858.1) rotate(-90)" text-anchor="middle" font-weight="bold" font-size="12.1">HGF<tspan id="lp_b8" font-size="9.1">(pg/ml)</tspan></text>
<text x="626.3" y="808.55" text-anchor="middle" font-size="10" fill="#333">**</text>
<text x="600.7" y="929.9" text-anchor="middle" font-size="9.4" font-weight="bold">A</text>
<text x="650" y="929.9" text-anchor="middle" font-size="9.4" font-weight="bold">B</text>
<g fill="#111"><circle cx="600.7" cy="828.5" r="2.3"/><circle cx="602.1" cy="843.5" r="2.3"/><circle cx="599.2" cy="845.9" r="2.3"/><circle cx="598.3" cy="849.7" r="2.3"/><circle cx="603.1" cy="851.7" r="2.3"/><circle cx="596.8" cy="855.5" r="2.3"/><circle cx="600.7" cy="855.5" r="2.3"/><circle cx="604.1" cy="855.5" r="2.3"/><circle cx="587.2" cy="858.9" r="2.3"/><circle cx="591.5" cy="859.4" r="2.3"/><circle cx="596.3" cy="858.9" r="2.3"/><circle cx="601.2" cy="858" r="2.3"/><circle cx="605" cy="858.9" r="2.3"/><circle cx="609.9" cy="858.9" r="2.3"/><circle cx="614.2" cy="858.9" r="2.3"/><circle cx="588.6" cy="864.2" r="2.3"/><circle cx="593.4" cy="862.3" r="2.3"/><circle cx="598.3" cy="861.3" r="2.3"/><circle cx="604.1" cy="863.3" r="2.3"/><circle cx="610.8" cy="865.7" r="2.3"/><circle cx="614.7" cy="860.4" r="2.3"/><circle cx="593.4" cy="867.6" r="2.3"/><circle cx="598.3" cy="869.1" r="2.3"/><circle cx="602.1" cy="867.1" r="2.3"/><circle cx="606" cy="866.2" r="2.3"/><circle cx="598.3" cy="872" r="2.3"/><circle cx="603.1" cy="872.4" r="2.3"/><circle cx="607" cy="871.5" r="2.3"/><circle cx="600.2" cy="874.8" r="2.3"/><circle cx="604.1" cy="875.8" r="2.3"/><circle cx="596.8" cy="878.2" r="2.3"/><circle cx="600.2" cy="878.7" r="2.3"/><circle cx="600.2" cy="881.6" r="2.3"/><circle cx="600.2" cy="884.5" r="2.3"/><circle cx="601.6" cy="889.3" r="2.3"/><circle cx="592.5" cy="860.5" r="2.3"/><circle cx="597" cy="860.5" r="2.3"/><circle cx="603.5" cy="860.5" r="2.3"/><circle cx="607.5" cy="860.5" r="2.3"/><circle cx="591" cy="866" r="2.3"/><circle cx="596" cy="866" r="2.3"/><circle cx="600.5" cy="866" r="2.3"/><circle cx="595" cy="870.5" r="2.3"/><circle cx="601" cy="870.5" r="2.3"/><circle cx="606" cy="870.5" r="2.3"/><rect x="647.7" y="821.8" width="4.4" height="4.4"/><rect x="645.1" y="840.3" width="4.4" height="4.4"/><rect x="650.3" y="846.7" width="4.4" height="4.4"/><rect x="634" y="851.5" width="4.4" height="4.4"/><rect x="639.5" y="853.2" width="4.4" height="4.4"/><rect x="661.5" y="851.9" width="4.4" height="4.4"/><rect x="645.1" y="855.3" width="4.4" height="4.4"/><rect x="650.3" y="855.3" width="4.4" height="4.4"/><rect x="655.9" y="853.6" width="4.4" height="4.4"/><rect x="647.7" y="859.6" width="4.4" height="4.4"/><rect x="653.3" y="857.9" width="4.4" height="4.4"/><rect x="658.4" y="859.6" width="4.4" height="4.4"/><rect x="637" y="862.6" width="4.4" height="4.4"/><rect x="642.6" y="863.5" width="4.4" height="4.4"/><rect x="642.6" y="866.9" width="4.4" height="4.4"/><rect x="647.7" y="867.8" width="4.4" height="4.4"/><rect x="653.3" y="872.9" width="4.4" height="4.4"/></g>
<path d="M593.2 855.3H608.2M593.2 861H608.2M600.7 855.3V861M642.1 845.2H658.1M642.1 853H658.1M650.1 845.2V853" fill="none" stroke="#333" stroke-width="0.9"/>
<path d="M584.7 858H616.7M634 850H666.2" fill="none" stroke="#000" stroke-width="1.45"/>
</g>
</svg>
</body></html>
